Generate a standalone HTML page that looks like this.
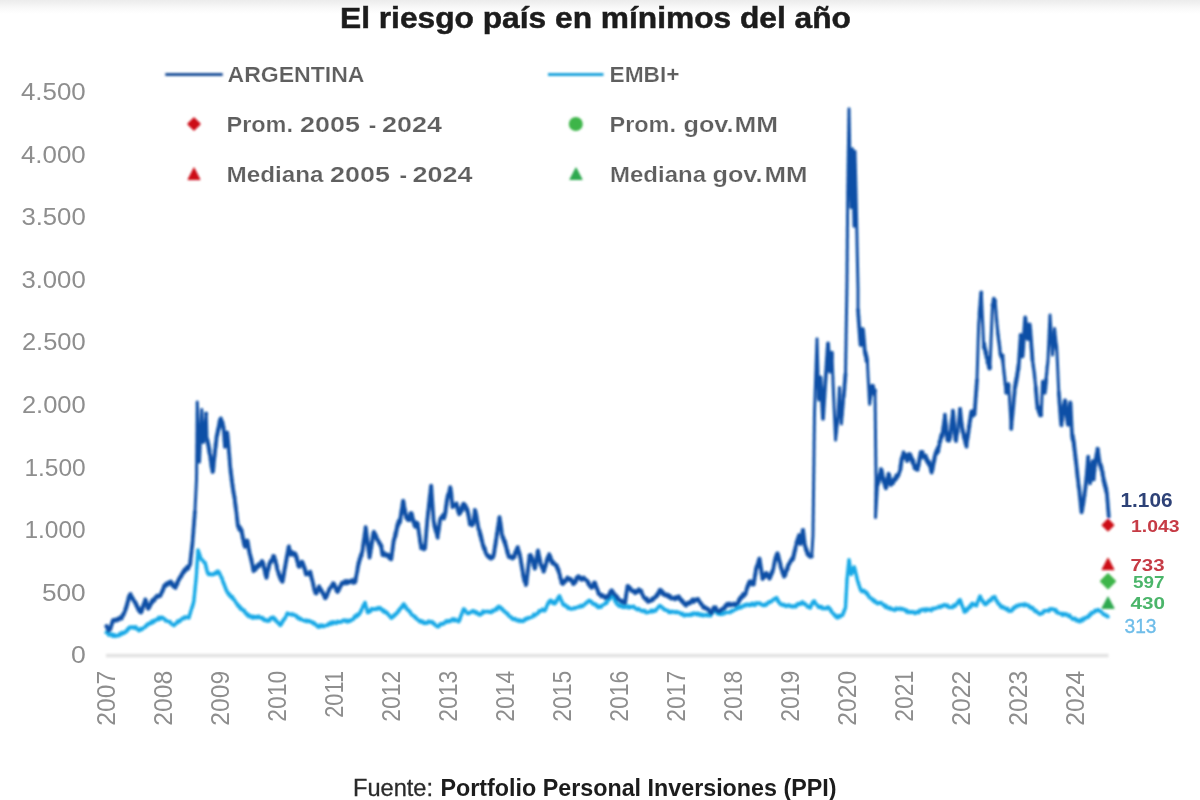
<!DOCTYPE html>
<html lang="es"><head><meta charset="utf-8"><title>El riesgo país en mínimos del año</title>
<style>
html,body{margin:0;padding:0;background:#fff;}
body{width:1200px;height:800px;overflow:hidden;font-family:"Liberation Sans",Arial,sans-serif;}
svg{display:block;}
</style></head><body>
<svg width="1200" height="800" viewBox="0 0 1200 800">
<defs><linearGradient id="tg" x1="0" y1="0" x2="0" y2="1"><stop offset="0" stop-color="#ececec"/><stop offset="0.28" stop-color="#f2f2f2"/><stop offset="0.57" stop-color="#f9f9f9"/><stop offset="0.85" stop-color="#fdfdfd"/><stop offset="1" stop-color="#ffffff"/></linearGradient><filter id="bl" x="-2%" y="-2%" width="104%" height="104%"><feGaussianBlur stdDeviation="0.8"/></filter><filter id="bt" x="-2%" y="-2%" width="104%" height="104%"><feGaussianBlur stdDeviation="0.65"/></filter></defs>
<rect x="0" y="0" width="1200" height="800" fill="#ffffff"/>
<rect x="0" y="0" width="1200" height="14" fill="url(#tg)"/>
<g filter="url(#bl)"><rect x="106" y="653.8" width="1002.5" height="3.6" fill="#e3e3e3"/>
<rect x="165.3" y="73" width="57.4" height="3" fill="#1f4f98"/>
<rect x="548" y="73" width="55.5" height="3" fill="#1fa2dc"/>
<path d="M194.0 118.4 L199.6 124.0 L194.0 129.6 L188.4 124.0 Z" fill="#cc0a14" stroke="#cc0a14" stroke-width="2.0" stroke-linejoin="round"/>
<path d="M194.0 167.8 L200.0 179.6 L188.0 179.6 Z" fill="#cc0a14" stroke="#cc0a14" stroke-width="1" stroke-linejoin="round"/>
<circle cx="575.8" cy="124" r="7" fill="#3db54a"/>
<path d="M576.0 167.8 L582.2 179.5 L569.8 179.5 Z" fill="#2fa950" stroke="#2fa950" stroke-width="1" stroke-linejoin="round"/>
<path d="M106.2 632.5 L107.5 632.9 L108.8 635.1 L110.0 634.6 L111.2 633.8 L112.5 636.3 L113.8 634.5 L115.0 636.5 L116.2 635.3 L117.5 635.9 L118.8 635.8 L120.0 633.3 L121.2 634.6 L122.5 632.3 L123.8 633.4 L125.0 632.6 L125.8 631.1 L126.7 631.4 L127.5 629.1 L128.3 629.7 L129.2 627.6 L130.0 626.9 L131.2 627.8 L132.5 626.7 L133.8 628.2 L135.0 627.0 L135.9 626.8 L136.9 629.2 L137.8 628.9 L138.8 630.7 L139.8 630.3 L140.8 628.5 L141.8 629.5 L142.8 628.5 L143.8 627.7 L144.8 627.5 L145.8 625.5 L146.8 626.0 L147.8 623.7 L148.8 623.8 L149.8 624.1 L150.8 622.0 L151.9 623.1 L152.9 620.8 L154.0 622.0 L155.0 620.4 L156.2 619.4 L157.5 620.0 L158.8 617.2 L160.0 619.2 L161.2 617.1 L162.5 617.4 L163.5 618.7 L164.5 618.7 L165.5 620.9 L166.5 620.4 L167.5 621.1 L168.8 621.9 L170.0 621.5 L171.2 624.0 L172.5 624.1 L173.8 625.5 L175.0 624.8 L175.9 623.1 L176.8 623.2 L177.7 621.0 L178.6 622.2 L179.5 620.4 L180.4 620.9 L181.2 619.4 L182.5 618.1 L183.8 618.8 L185.0 616.8 L186.2 617.7 L187.5 616.9 L188.8 618.0 L189.1 617.7 L189.5 615.1 L189.9 615.1 L190.3 612.2 L190.7 612.3 L191.1 610.0 L191.4 609.5 L191.8 607.5 L192.2 607.8 L192.6 605.1 L193.0 605.3 L193.4 602.2 L193.8 602.0 L193.9 601.7 L194.0 599.0 L194.1 598.8 L194.2 596.4 L194.4 596.6 L194.5 594.1 L194.6 594.0 L194.8 591.2 L194.9 591.5 L195.0 589.1 L195.1 589.1 L195.2 586.6 L195.4 586.1 L195.5 583.7 L195.6 584.1 L195.8 581.5 L195.9 581.7 L196.0 579.0 L196.1 578.9 L196.2 577.2 L196.3 576.2 L196.4 575.0 L196.5 573.7 L196.6 572.5 L196.6 571.2 L196.7 570.0 L196.8 568.7 L196.9 567.5 L197.0 566.2 L197.0 565.0 L197.1 563.7 L197.2 562.5 L197.3 561.2 L197.4 560.1 L197.4 558.7 L197.5 557.5 L197.6 556.3 L197.7 555.1 L197.8 553.8 L197.8 552.6 L197.9 551.2 L198.0 550.0 L198.4 552.0 L198.8 551.8 L199.2 554.8 L199.6 554.0 L200.0 556.8 L200.4 556.6 L200.8 558.9 L201.2 559.5 L202.5 559.8 L203.8 562.3 L205.0 562.4 L205.3 563.1 L205.6 565.7 L205.9 565.2 L206.2 568.6 L206.6 567.9 L206.9 571.0 L207.2 570.9 L207.5 572.9 L208.8 574.7 L210.0 573.5 L211.2 574.7 L212.5 574.8 L213.5 573.8 L214.6 574.2 L215.6 572.3 L216.7 573.4 L217.7 571.1 L218.8 571.8 L219.3 573.7 L219.8 573.3 L220.4 575.7 L220.9 575.8 L221.4 578.1 L222.0 578.0 L222.5 580.2 L223.0 582.4 L223.4 582.0 L223.9 584.7 L224.3 584.0 L224.8 587.0 L225.2 586.5 L225.7 589.4 L226.1 588.9 L226.6 591.4 L227.0 591.0 L227.5 592.6 L228.3 594.2 L229.2 593.5 L230.0 596.2 L230.8 595.5 L231.7 597.8 L232.5 596.7 L233.3 599.4 L234.2 599.4 L235.0 600.9 L235.8 602.9 L236.7 602.9 L237.5 605.4 L238.3 604.8 L239.2 607.5 L240.0 606.6 L240.8 609.2 L241.7 608.5 L242.5 609.8 L243.4 611.0 L244.4 610.2 L245.3 613.3 L246.2 612.9 L247.2 615.4 L248.1 614.2 L249.1 616.9 L250.0 616.8 L251.2 615.9 L252.5 618.1 L253.8 616.3 L255.0 617.9 L256.2 616.6 L257.5 617.9 L258.8 616.1 L260.0 617.3 L261.2 618.4 L262.5 617.5 L263.8 620.3 L265.0 619.2 L266.2 620.9 L267.5 621.2 L268.5 619.9 L269.5 620.9 L270.5 618.1 L271.5 618.5 L272.5 617.1 L273.4 617.2 L274.4 619.8 L275.3 618.9 L276.2 621.5 L277.2 621.3 L278.1 623.2 L279.1 623.3 L280.0 625.2 L280.7 625.3 L281.4 622.9 L282.0 623.3 L282.7 620.6 L283.4 620.8 L284.1 618.8 L284.8 619.0 L285.5 617.0 L286.1 616.3 L286.8 613.9 L287.5 613.0 L288.8 614.2 L290.0 614.0 L291.2 614.9 L292.5 613.9 L293.8 615.3 L295.0 615.0 L296.1 615.4 L297.1 617.8 L298.2 617.1 L299.3 619.1 L300.4 618.2 L301.4 619.7 L302.5 620.1 L303.8 620.2 L305.0 621.2 L306.2 620.1 L307.5 621.7 L308.8 620.4 L310.0 621.2 L311.1 622.3 L312.1 621.8 L313.2 623.6 L314.3 622.9 L315.4 624.8 L316.4 624.7 L317.5 626.7 L318.8 627.3 L320.0 625.0 L321.2 626.7 L322.5 625.1 L323.8 626.7 L325.0 625.9 L326.2 625.2 L327.5 625.5 L328.8 623.4 L330.0 624.4 L331.2 622.1 L332.5 623.9 L333.8 621.8 L335.0 622.7 L336.2 623.4 L337.5 621.4 L338.8 622.5 L340.0 621.6 L341.2 622.2 L342.5 620.7 L343.8 619.9 L345.0 621.3 L346.2 620.1 L347.5 622.0 L348.8 620.2 L350.0 621.3 L351.2 619.7 L352.5 619.8 L353.4 619.1 L354.4 616.4 L355.3 617.4 L356.2 614.9 L357.2 616.4 L358.1 614.0 L359.1 614.7 L360.0 613.2 L360.6 610.9 L361.1 611.6 L361.7 609.0 L362.2 609.0 L362.8 606.2 L363.3 606.7 L363.9 604.3 L364.4 604.3 L365.0 602.4 L365.3 603.2 L365.6 605.6 L365.9 605.4 L366.2 607.9 L366.6 607.7 L366.9 610.9 L367.2 610.9 L367.5 612.6 L368.5 612.6 L369.5 610.6 L370.5 611.4 L371.5 608.6 L372.5 608.7 L373.8 609.5 L375.0 608.8 L376.2 609.5 L377.5 607.7 L378.8 608.9 L380.0 607.5 L381.2 608.9 L382.2 610.6 L383.2 609.9 L384.2 612.3 L385.1 611.1 L386.1 612.8 L387.1 612.4 L388.1 615.0 L389.0 614.8 L390.0 616.7 L391.2 618.2 L392.3 617.7 L393.3 615.5 L394.4 616.0 L395.4 613.8 L396.5 614.1 L397.5 612.5 L398.3 610.5 L399.1 611.0 L399.8 608.8 L400.6 608.7 L401.4 606.7 L402.2 607.6 L403.0 604.4 L403.8 603.9 L404.4 605.4 L405.0 605.2 L405.6 607.6 L406.2 607.1 L406.9 609.6 L407.5 609.8 L408.5 609.7 L409.5 612.2 L410.5 612.0 L411.5 615.0 L412.5 615.1 L413.5 615.4 L414.6 617.6 L415.6 616.8 L416.7 619.2 L417.7 619.2 L418.8 620.7 L419.8 621.8 L420.8 620.5 L421.9 622.4 L422.9 621.2 L424.0 623.4 L425.0 623.5 L426.2 622.3 L427.5 623.2 L428.8 621.0 L430.0 621.9 L431.1 622.6 L432.1 621.6 L433.2 623.8 L434.3 623.3 L435.4 625.6 L436.4 625.7 L437.5 626.8 L438.8 626.5 L440.0 623.9 L441.2 624.7 L442.5 623.2 L443.8 624.0 L445.0 622.3 L446.2 620.8 L447.5 622.1 L448.8 620.5 L450.0 621.6 L451.2 620.3 L452.5 618.7 L453.8 620.8 L455.0 619.0 L456.2 620.9 L457.5 620.5 L458.8 621.7 L459.2 621.0 L459.7 618.5 L460.1 619.2 L460.6 616.1 L461.0 616.1 L461.5 613.9 L461.9 614.3 L462.4 611.6 L462.8 611.7 L463.3 609.2 L463.8 608.7 L464.5 610.2 L465.2 609.9 L466.0 612.1 L466.8 612.3 L467.5 613.6 L468.8 613.6 L470.0 612.1 L471.2 612.5 L472.5 610.8 L473.8 611.0 L474.8 612.7 L475.8 611.6 L476.9 613.6 L477.9 612.9 L479.0 614.8 L480.0 615.0 L481.0 613.5 L482.0 613.9 L483.0 611.0 L484.0 612.5 L485.0 611.8 L486.2 611.3 L487.5 612.0 L488.8 611.3 L490.0 612.4 L491.2 612.6 L492.5 610.3 L493.8 611.2 L495.0 609.7 L495.9 608.6 L496.9 609.7 L497.8 607.0 L498.8 606.3 L499.8 607.8 L500.8 607.3 L501.8 609.7 L502.8 609.2 L503.8 611.0 L504.8 612.1 L505.8 611.9 L506.9 614.1 L507.9 613.7 L509.0 616.2 L510.0 616.9 L511.0 616.8 L512.1 619.1 L513.1 618.4 L514.2 619.7 L515.2 618.5 L516.2 619.9 L517.5 621.0 L518.8 619.9 L520.0 621.4 L521.2 620.3 L522.5 621.5 L523.8 621.1 L525.0 618.8 L526.2 619.6 L527.5 617.7 L528.8 618.4 L530.0 617.4 L531.2 617.3 L532.5 616.9 L533.8 614.2 L535.0 615.6 L536.2 614.4 L537.2 613.2 L538.1 613.5 L539.1 610.8 L540.0 610.7 L541.2 611.1 L542.5 609.1 L543.8 610.7 L545.0 610.7 L545.6 608.6 L546.1 608.6 L546.7 606.0 L547.2 605.7 L547.8 603.3 L548.3 603.8 L548.9 601.7 L549.4 601.9 L550.0 600.4 L551.0 600.3 L552.0 602.9 L553.0 601.6 L554.0 603.7 L555.0 603.7 L555.6 601.6 L556.3 602.2 L556.9 599.6 L557.6 600.0 L558.2 597.1 L558.9 597.5 L559.5 595.8 L560.0 596.7 L560.5 598.8 L561.0 599.2 L561.5 601.4 L562.0 601.3 L562.5 603.7 L563.6 605.2 L564.6 604.3 L565.7 606.3 L566.8 606.0 L567.9 608.4 L568.9 607.2 L570.0 608.6 L571.2 609.3 L572.5 608.2 L573.8 608.8 L575.0 607.4 L576.2 608.0 L577.5 607.3 L578.8 606.3 L580.0 607.2 L581.2 605.4 L582.5 606.4 L583.8 605.2 L584.8 603.7 L585.8 603.9 L586.8 601.9 L587.8 602.0 L588.8 600.5 L589.8 600.4 L590.8 602.1 L591.8 601.8 L592.8 604.2 L593.8 604.0 L594.8 603.7 L595.8 605.7 L596.8 604.8 L597.8 607.5 L598.8 607.5 L600.0 606.1 L601.2 607.2 L602.5 605.0 L603.8 604.6 L604.8 604.3 L605.8 602.3 L606.8 603.1 L607.8 600.4 L608.8 600.0 L609.7 599.3 L610.6 597.4 L611.6 597.4 L612.5 595.9 L613.1 596.4 L613.8 598.2 L614.4 598.3 L615.0 601.4 L615.6 601.0 L616.2 603.0 L617.2 604.6 L618.1 604.3 L619.1 606.3 L620.0 606.2 L621.2 605.1 L622.5 607.3 L623.8 606.3 L625.0 607.5 L626.2 607.1 L627.5 605.9 L628.8 607.9 L630.0 606.4 L631.2 607.5 L632.5 606.4 L633.8 606.2 L635.0 608.5 L636.2 608.2 L637.5 609.9 L638.8 608.6 L640.0 609.9 L641.2 611.1 L642.5 610.2 L643.8 611.8 L645.0 610.6 L646.2 612.8 L647.5 612.6 L648.8 611.9 L650.0 612.1 L651.2 610.2 L652.5 611.9 L653.8 610.2 L655.0 611.2 L656.0 610.5 L657.0 608.4 L658.0 608.0 L659.0 606.0 L660.0 605.6 L661.0 606.9 L662.1 607.0 L663.1 609.1 L664.2 608.8 L665.2 610.4 L666.2 610.3 L667.5 610.3 L668.8 612.5 L670.0 611.3 L671.2 612.5 L672.5 611.2 L673.8 611.9 L675.0 612.7 L676.2 611.6 L677.5 612.8 L678.8 612.1 L680.0 612.9 L681.2 614.5 L682.5 613.2 L683.8 615.7 L685.0 615.7 L686.2 614.4 L687.5 615.4 L688.8 614.5 L690.0 615.5 L691.2 613.7 L692.5 614.9 L693.8 613.0 L695.0 613.3 L696.2 614.6 L697.5 613.1 L698.8 615.0 L700.0 613.8 L701.2 615.6 L702.5 614.2 L703.8 615.9 L705.0 615.0 L706.2 614.4 L707.5 615.7 L708.8 615.0 L710.0 615.8 L710.8 615.8 L711.5 612.8 L712.2 613.2 L713.0 611.1 L713.8 610.6 L715.0 611.6 L716.2 611.7 L717.5 613.8 L718.8 613.3 L720.0 614.4 L721.2 614.5 L722.5 612.8 L723.8 613.9 L725.0 612.4 L726.2 612.8 L727.5 612.4 L728.8 612.2 L730.0 612.7 L731.2 610.8 L732.5 611.4 L733.8 609.9 L735.0 609.9 L736.2 609.5 L737.5 607.2 L738.8 608.3 L740.0 606.3 L741.2 607.8 L742.5 606.4 L743.8 605.0 L745.0 606.1 L746.2 604.1 L747.5 604.2 L748.8 605.5 L750.0 604.0 L751.2 605.3 L752.5 603.3 L753.8 605.0 L755.0 605.3 L756.2 602.7 L757.5 603.8 L758.8 602.9 L759.8 603.0 L760.8 604.6 L761.8 604.3 L762.8 605.5 L763.8 605.5 L764.8 604.4 L765.8 605.3 L766.9 603.3 L767.9 603.8 L769.0 601.7 L770.0 601.9 L771.0 602.0 L772.1 600.3 L773.1 600.3 L774.2 598.6 L775.2 598.8 L776.2 597.7 L776.9 597.8 L777.5 600.9 L778.1 600.1 L778.8 602.5 L779.4 602.3 L780.0 604.0 L781.2 604.9 L782.5 604.1 L783.8 605.7 L785.0 604.8 L786.2 606.4 L787.5 605.8 L788.8 604.9 L790.0 606.5 L791.2 605.7 L792.5 607.0 L793.8 605.8 L795.0 606.9 L796.0 606.9 L797.1 603.9 L798.1 604.6 L799.2 603.3 L800.2 604.4 L801.2 602.9 L802.5 601.9 L803.8 604.2 L805.0 603.5 L806.2 605.1 L807.5 606.9 L808.8 606.4 L810.0 608.1 L810.6 607.7 L811.2 604.6 L811.9 605.0 L812.5 602.2 L813.1 602.4 L813.8 601.0 L814.7 601.2 L815.6 604.1 L816.6 604.3 L817.5 605.6 L818.5 607.3 L819.6 606.2 L820.6 607.7 L821.7 606.6 L822.7 608.8 L823.8 608.5 L825.0 608.0 L826.2 608.9 L827.5 607.0 L828.8 607.1 L829.4 608.7 L830.0 608.6 L830.6 610.9 L831.2 610.3 L831.9 612.6 L832.5 613.0 L833.4 613.4 L834.4 615.6 L835.3 615.1 L836.2 617.3 L837.5 617.9 L838.8 615.5 L840.0 616.9 L841.2 615.2 L842.5 615.4 L843.0 614.5 L843.5 611.8 L844.0 612.2 L844.5 609.7 L845.0 609.2 L845.5 607.3 L845.6 606.2 L845.6 605.0 L845.7 603.8 L845.8 602.5 L845.8 601.2 L845.9 600.0 L846.0 598.8 L846.0 597.5 L846.1 596.2 L846.2 595.0 L846.2 593.8 L846.3 592.5 L846.4 591.2 L846.5 590.0 L846.5 588.8 L846.6 587.5 L846.7 586.2 L846.7 585.0 L846.8 583.8 L846.9 582.5 L846.9 581.2 L847.0 580.0 L847.1 578.1 L847.2 578.0 L847.4 575.1 L847.5 575.2 L847.6 572.7 L847.8 572.8 L847.9 570.3 L848.0 570.6 L848.1 567.9 L848.2 568.1 L848.4 565.5 L848.5 565.1 L848.6 563.0 L848.8 563.0 L848.9 560.7 L849.0 559.8 L849.2 561.7 L849.4 561.7 L849.6 563.8 L849.8 564.2 L849.9 566.6 L850.1 566.5 L850.3 569.3 L850.5 569.0 L850.7 572.0 L850.9 571.1 L851.1 574.4 L851.2 574.6 L851.8 572.4 L852.2 572.8 L852.8 570.0 L853.2 570.4 L853.8 567.6 L854.2 566.9 L854.6 569.0 L854.9 568.6 L855.2 571.4 L855.5 571.4 L855.9 573.8 L856.2 574.4 L856.5 576.8 L856.9 576.9 L857.2 580.0 L857.5 580.5 L857.9 581.1 L858.3 583.8 L858.7 583.3 L859.1 586.1 L859.5 585.9 L859.9 588.4 L860.3 588.3 L860.8 590.5 L862.2 591.8 L863.6 590.2 L865.0 591.5 L865.8 593.3 L866.7 592.2 L867.5 595.1 L868.3 594.6 L869.2 597.6 L870.0 597.8 L871.0 598.0 L872.1 600.0 L873.1 599.3 L874.2 601.8 L875.2 600.9 L876.2 602.6 L877.5 603.7 L878.8 602.5 L880.0 603.3 L881.2 602.5 L882.5 604.0 L883.5 605.5 L884.5 604.9 L885.5 607.4 L886.5 606.0 L887.5 607.6 L888.8 608.7 L890.0 607.5 L891.2 609.4 L892.5 608.9 L893.8 610.0 L895.0 610.3 L896.2 608.1 L897.5 609.4 L898.8 609.0 L900.0 608.1 L901.2 609.6 L902.5 608.6 L903.8 609.2 L904.8 610.5 L905.8 609.9 L906.9 612.2 L907.9 610.9 L909.0 612.6 L910.0 612.5 L911.2 611.6 L912.5 612.5 L913.8 611.7 L915.0 613.4 L916.2 612.9 L917.5 611.5 L918.8 612.7 L920.0 610.0 L921.2 610.7 L922.5 609.3 L923.8 609.3 L925.0 611.0 L926.2 608.9 L927.5 610.3 L928.8 609.0 L930.0 609.8 L931.2 610.7 L932.5 608.3 L933.8 609.1 L935.0 607.9 L936.2 608.4 L937.5 607.6 L938.8 606.4 L940.0 607.5 L941.2 605.8 L942.5 606.5 L943.8 604.7 L945.0 604.7 L946.2 606.1 L947.5 605.0 L948.8 607.5 L950.0 607.5 L951.2 606.9 L952.5 607.6 L953.8 605.0 L955.0 606.2 L956.2 604.6 L957.0 602.9 L957.8 603.5 L958.5 600.8 L959.2 601.7 L960.0 599.7 L960.4 600.3 L960.8 602.9 L961.2 602.2 L961.6 605.0 L962.0 604.9 L962.5 606.9 L962.9 607.1 L963.3 609.0 L963.7 609.2 L964.1 611.7 L964.5 612.1 L965.4 610.9 L966.2 611.4 L967.0 608.6 L967.9 609.6 L968.8 607.8 L969.7 606.1 L970.6 607.3 L971.6 603.8 L972.5 603.3 L973.8 605.1 L975.0 604.2 L976.2 605.8 L976.7 605.6 L977.2 602.8 L977.7 602.4 L978.1 600.4 L978.6 600.1 L979.1 597.8 L979.5 597.9 L980.0 596.1 L980.6 596.6 L981.2 599.6 L981.9 599.6 L982.5 601.6 L983.1 601.0 L983.8 603.2 L984.4 603.0 L985.0 604.6 L986.0 604.6 L987.0 602.4 L988.0 602.8 L989.0 600.2 L990.0 600.2 L991.1 600.6 L992.2 597.4 L993.4 597.7 L994.5 596.6 L995.1 597.0 L995.7 600.0 L996.3 599.7 L996.9 601.7 L997.5 601.5 L998.1 603.9 L998.8 604.3 L999.8 604.3 L1000.8 607.1 L1001.9 606.2 L1002.9 608.0 L1004.0 607.1 L1005.0 608.2 L1006.2 609.5 L1007.5 608.2 L1008.8 611.2 L1010.0 610.8 L1011.2 611.2 L1012.1 610.4 L1013.0 607.9 L1013.9 608.6 L1014.8 606.8 L1015.7 607.3 L1016.6 605.6 L1017.5 605.2 L1018.8 606.0 L1020.0 604.4 L1021.2 605.0 L1022.5 604.3 L1023.8 605.6 L1025.0 603.8 L1026.2 605.6 L1027.5 604.9 L1028.5 605.1 L1029.6 607.5 L1030.6 606.8 L1031.7 608.5 L1032.7 607.6 L1033.8 609.8 L1034.8 611.1 L1035.8 610.4 L1036.9 612.3 L1037.9 612.1 L1039.0 614.0 L1040.0 614.4 L1041.2 613.2 L1042.5 613.5 L1043.8 610.7 L1045.0 611.3 L1046.2 610.4 L1047.5 610.4 L1048.8 611.2 L1050.0 608.7 L1051.2 609.5 L1052.5 608.7 L1053.6 609.2 L1054.6 610.6 L1055.7 609.5 L1056.8 612.6 L1057.9 612.1 L1058.9 613.6 L1060.0 613.6 L1061.2 613.3 L1062.5 615.3 L1063.8 613.6 L1065.0 615.0 L1066.2 613.9 L1067.5 615.4 L1068.5 616.4 L1069.6 615.0 L1070.6 617.4 L1071.7 617.8 L1072.7 619.3 L1073.8 618.4 L1075.0 618.3 L1076.2 620.8 L1077.5 619.7 L1078.8 621.6 L1080.0 621.7 L1081.2 619.3 L1082.5 620.7 L1083.8 618.1 L1085.0 618.9 L1086.2 617.3 L1087.3 616.7 L1088.3 617.4 L1089.4 614.6 L1090.4 615.3 L1091.5 612.6 L1092.5 613.1 L1093.8 612.5 L1095.0 610.4 L1096.2 611.3 L1097.5 609.7 L1098.8 610.0 L1100.0 611.6 L1101.2 611.4 L1102.5 613.2 L1103.6 614.6 L1104.7 614.3 L1105.8 615.9 L1106.9 615.5 L1108.0 616.8" fill="none" stroke="#12a8e6" stroke-width="3.4" stroke-linejoin="round" stroke-linecap="round"/>
<path d="M194.9 512.2 L195.0 510.6 L195.1 508.9 L195.1 507.8 L195.2 506.7 L195.2 505.6 L195.3 504.4 L195.3 503.3 L195.4 502.2 L195.4 501.1 L195.5 500.0 L195.6 498.9 L195.6 497.8 L195.7 496.7 L195.7 495.6 L195.8 494.4 L195.8 493.3 L195.9 492.2 L195.9 491.1 L196.0 490.0 L196.1 488.9 L196.1 487.8 L196.2 486.7 L196.2 485.6 L196.3 484.4 L196.3 483.3 L196.4 482.2 L196.4 481.1 L196.5 480.0 L196.5 478.9 L196.5 477.8 L196.5 476.7 L196.5 475.5 L196.6 474.4 L196.6 473.3 L196.6 472.2 L196.6 471.1 L196.6 470.0 L196.6 468.9 L196.6 467.7 L196.6 466.6 L196.6 465.5 L196.7 464.4 L196.7 463.3 L196.7 462.2 L196.7 461.1 L196.7 459.9 L196.7 458.8 L196.7 457.7 L196.7 456.6 L196.7 455.5 L196.7 454.4 L196.8 453.3 L196.8 452.1 L196.8 451.0 L196.8 449.9 L196.8 448.8 L196.8 447.7 L196.8 446.6 L196.8 445.5 L196.8 444.3 L196.9 443.2 L196.9 442.1 L196.9 441.0 L196.9 439.9 L196.9 438.8 L196.9 437.7 L196.9 436.5 L196.9 435.4 L196.9 434.3 L196.9 433.2 L197.0 432.1 L197.0 431.0 L197.0 429.9 L197.0 428.7 L197.0 427.6 L197.0 426.5 L197.0 425.4 L197.0 424.3 L197.0 423.2 L197.1 422.1 L197.1 420.9 L197.1 419.8 L197.1 418.7 L197.1 417.6 L197.1 416.5 L197.1 415.4 L197.1 414.3 L197.1 413.1 L197.2 412.0 L197.2 410.9 L197.2 409.8 L197.2 408.7 L197.2 407.6 L197.2 406.5 L197.2 405.3 L197.2 404.2 L197.2 403.1 L197.2 402.0 L197.3 403.1 L197.3 404.2 L197.4 405.3 L197.4 406.4 L197.5 407.6 L197.5 408.7 L197.5 409.8 L197.6 410.9 L197.6 412.0 L197.7 413.1 L197.7 414.2 L197.8 415.3 L197.8 416.4 L197.8 417.6 L197.9 418.7 L197.9 419.8 L198.0 420.9 L198.0 422.0 L198.0 423.1 L198.1 424.2 L198.1 425.3 L198.2 426.4 L198.2 427.6 L198.2 428.7 L198.3 429.8 L198.3 430.9 L198.4 432.0 L198.4 433.1 L198.5 434.2 L198.5 435.3 L198.5 436.4 L198.6 437.6 L198.6 438.7 L198.7 439.8 L198.7 440.9 L198.8 442.0 L198.8 443.1 L198.8 444.2 L198.9 445.3 L198.9 446.4 L199.0 447.6 L199.0 448.7 L199.0 449.8 L199.1 450.9 L199.1 452.0 L199.2 453.1 L199.2 454.2 L199.2 455.3 L199.3 456.4 L199.3 457.6 L199.4 458.7 L199.4 459.8 L199.5 460.9 L199.5 462.0 L199.5 460.9 L199.6 459.8 L199.6 458.6 L199.7 457.5 L199.7 456.4 L199.8 455.3 L199.8 454.2 L199.9 453.1 L199.9 451.9 L200.0 450.8 L200.0 449.7 L200.1 448.6 L200.1 447.5 L200.2 446.4 L200.2 445.2 L200.3 444.1 L200.3 443.0 L200.4 441.9 L200.4 440.8 L200.5 439.7 L200.5 438.5 L200.6 437.4 L200.6 436.3 L200.6 435.2 L200.7 434.1 L200.7 433.0 L200.8 431.8 L200.8 430.7 L200.9 429.6 L200.9 428.5 L201.0 427.4 L201.0 426.3 L201.1 425.1 L201.1 424.0 L201.2 422.9 L201.2 421.8 L201.3 420.7 L201.3 419.6 L201.4 418.4 L201.4 417.3 L201.5 416.2 L201.5 415.1 L201.6 414.0 L201.6 412.9 L201.7 411.7 L201.7 410.6 L201.8 409.5 L201.8 410.6 L201.8 411.7 L201.9 412.8 L201.9 413.9 L202.0 415.0 L202.1 416.1 L202.1 417.2 L202.2 418.3 L202.2 419.4 L202.2 420.5 L202.3 421.6 L202.3 422.7 L202.4 423.8 L202.4 424.9 L202.5 426.0 L202.6 427.1 L202.6 428.2 L202.7 429.3 L202.7 430.4 L202.8 431.5 L202.8 432.6 L202.8 433.7 L202.9 434.8 L202.9 435.9 L203.0 437.0 L203.1 438.1 L203.1 439.2 L203.2 440.3 L203.2 441.4 L203.2 442.5 L203.4 440.8 L203.5 442.1 L203.6 437.7 L203.7 440.2 L203.8 436.7 L203.9 438.6 L204.1 434.7 L204.2 436.8 L204.3 432.0 L204.4 434.5 L204.5 431.8 L204.6 434.1 L204.8 428.2 L204.9 431.8 L205.0 426.4 L205.1 429.2 L205.2 422.8 L205.3 425.2 L205.4 420.5 L205.6 423.8 L205.7 418.1 L205.8 420.6 L205.9 416.1 L206.0 417.6 L206.1 413.6 M206.2 413.5 L206.3 415.1 L206.3 416.2 L206.3 417.4 L206.4 418.5 L206.4 419.6 L206.4 420.8 L206.5 421.9 L206.5 423.0 L206.5 424.1 L206.6 425.2 L206.6 426.4 L206.6 427.5 L206.7 428.6 L206.7 429.8 L206.7 430.9 L206.8 432.0 L206.8 433.1 L206.8 434.2 L206.8 435.4 L206.9 436.5 L206.9 437.6 L206.9 438.8 L207.0 439.9 L207.0 441.0 M811.8 556.5 L811.8 555.1 L811.9 554.0 L811.9 552.9 L812.0 551.8 L812.1 550.7 L812.1 549.5 L812.2 548.4 L812.3 547.3 L812.3 546.2 L812.4 545.1 L812.5 543.9 L812.5 542.8 L812.6 541.7 L812.7 540.6 L812.7 539.5 L812.8 538.4 L812.9 537.2 L812.9 536.1 L813.0 535.0 L813.0 533.9 L813.0 532.8 L813.0 531.7 L813.1 530.6 L813.1 529.5 L813.1 528.4 L813.1 527.3 L813.1 526.2 L813.1 525.1 L813.1 524.0 L813.1 522.9 L813.2 521.8 L813.2 520.7 L813.2 519.5 L813.2 518.4 L813.2 517.3 L813.2 516.2 L813.2 515.1 L813.3 514.0 L813.3 512.9 L813.3 511.8 L813.3 510.7 L813.3 509.6 L813.3 508.5 L813.3 507.4 L813.4 506.3 L813.4 505.2 L813.4 504.1 L813.4 503.0 L813.4 501.9 L813.4 500.8 L813.4 499.7 L813.4 498.6 L813.5 497.5 L813.5 496.4 L813.5 495.3 L813.5 494.2 L813.5 493.1 L813.5 492.0 L813.5 490.9 L813.6 489.8 L813.6 488.6 L813.6 487.5 L813.6 486.4 L813.6 485.3 L813.6 484.2 L813.6 483.1 L813.6 482.0 L813.7 480.9 L813.7 479.8 L813.7 478.7 L813.7 477.6 L813.7 476.5 L813.7 475.4 L813.7 474.3 L813.8 473.2 L813.8 472.1 L813.8 471.0 L813.8 469.9 L813.8 468.8 L813.8 467.7 L813.8 466.6 L813.9 465.5 L813.9 464.4 L813.9 463.3 L813.9 462.2 L813.9 461.1 L813.9 460.0 L813.9 458.9 L813.9 457.7 L814.0 456.6 L814.0 455.5 L814.0 454.4 L814.0 453.3 L814.0 452.2 L814.0 451.1 L814.0 450.0 L814.1 448.9 L814.1 447.8 L814.1 446.7 L814.1 445.6 L814.1 444.5 L814.1 443.4 L814.1 442.3 L814.1 441.2 L814.2 440.1 L814.2 439.0 L814.2 437.9 L814.2 436.8 L814.2 435.7 L814.2 434.6 L814.2 433.5 L814.3 432.4 L814.3 431.3 L814.3 430.2 L814.3 429.1 L814.3 428.0 L814.3 426.8 L814.3 425.7 L814.4 424.6 L814.4 423.5 L814.4 422.4 L814.4 421.3 L814.4 420.2 L814.4 419.1 L814.4 418.0 L814.4 416.9 L814.5 415.8 L814.5 414.7 L814.5 413.6 L814.5 412.5 L814.5 411.4 L814.6 410.3 L814.6 409.2 L814.6 408.1 L814.7 407.0 L814.7 405.9 L814.8 404.8 L814.8 403.7 L814.8 402.6 L814.9 401.5 L814.9 400.4 L814.9 399.3 L815.0 398.2 L815.0 397.1 L815.1 396.0 L815.1 394.9 L815.1 393.8 L815.2 392.7 L815.2 391.6 L815.2 390.5 L815.3 389.4 L815.3 388.3 L815.4 387.2 L815.4 386.1 L815.4 385.0 L815.5 383.9 L815.5 382.8 L815.5 381.7 L815.6 380.6 L815.6 379.5 L815.7 378.4 L815.7 377.3 L815.7 376.2 L815.8 375.1 L815.8 374.0 L815.8 372.9 L815.9 371.8 L815.9 370.7 L816.0 369.6 L816.0 368.5 L816.0 367.4 L816.1 366.3 L816.1 365.2 L816.1 364.1 L816.2 363.0 L816.2 361.9 L816.3 360.8 L816.3 359.7 L816.3 358.6 L816.4 357.5 L816.4 356.4 L816.4 355.3 L816.5 354.2 L816.5 353.1 L816.6 352.0 L816.6 350.9 L816.6 349.8 L816.7 348.7 L816.7 347.6 L816.7 346.5 L816.8 345.4 L816.8 344.3 L816.9 343.2 L816.9 342.1 L816.9 341.0 L817.0 339.9 L817.0 338.8 L817.0 339.9 L817.1 341.0 L817.1 342.1 L817.1 343.2 L817.2 344.3 L817.2 345.4 L817.2 346.5 L817.3 347.7 L817.3 348.8 L817.3 349.9 L817.4 351.0 L817.4 352.1 L817.4 353.2 L817.4 354.3 L817.5 355.5 L817.5 356.6 L817.5 357.7 L817.6 358.8 L817.6 359.9 L817.6 361.0 L817.7 362.1 L817.7 363.2 L817.7 364.4 L817.8 365.5 L817.8 366.6 L817.8 367.7 L817.9 368.8 L817.9 369.9 L817.9 371.0 L818.0 372.2 L818.0 373.3 L818.0 374.4 L818.0 375.5 L818.1 376.6 L818.1 377.7 L818.1 378.8 L818.2 380.0 L818.2 381.1 L818.2 382.2 L818.3 383.3 L818.3 384.4 L818.3 385.5 L818.4 386.6 L818.4 387.8 L818.4 388.9 L818.5 390.0 L818.5 391.1 L818.5 392.2 L818.6 393.3 L818.6 394.4 L818.6 395.5 L818.7 396.7 L818.7 397.8 L818.7 398.9 L818.8 400.0 L818.8 396.5 M832.0 353.9 L832.0 356.1 L832.1 357.2 L832.1 358.4 L832.2 359.5 L832.2 360.6 L832.3 361.8 L832.3 362.9 L832.4 364.0 L832.4 365.1 L832.4 366.2 L832.5 367.4 L832.5 368.5 L832.6 369.6 L832.6 370.8 L832.7 371.9 L832.7 373.0 L832.7 374.1 L832.8 375.2 L832.8 376.4 L832.9 377.5 L832.9 378.6 L833.0 379.8 L833.0 380.9 L833.0 382.0 L833.1 383.1 L833.1 384.2 L833.2 385.4 L833.2 386.5 L833.3 387.6 L833.3 388.8 L833.4 389.9 L833.4 391.0 L833.4 392.1 L833.5 393.2 L833.5 394.4 L833.6 395.5 L833.6 396.6 L833.7 397.8 L833.7 398.9 L833.8 400.0 L833.8 401.1 L833.9 402.2 L833.9 403.3 L834.0 404.4 L834.0 405.5 L834.1 406.6 L834.1 407.7 L834.2 408.8 L834.2 409.9 L834.3 411.0 L834.3 412.1 L834.4 413.2 L834.4 414.3 L834.5 415.4 L834.5 416.5 L834.6 417.6 L834.6 418.8 L834.7 419.9 L834.7 421.0 L834.8 422.1 L834.8 423.2 L834.9 424.3 L834.9 425.4 L835.0 426.5 L835.0 427.6 L835.1 428.7 L835.1 429.8 L835.2 430.9 L835.2 432.0 L835.3 433.1 L835.3 434.2 L835.4 435.3 L835.4 436.4 L835.5 437.5 L835.6 440.1 L835.8 433.9 L835.9 437.3 L836.0 431.7 L836.1 435.7 L836.2 430.9 L836.4 433.5 L836.5 427.5 L836.6 431.7 L836.8 425.5 L836.9 428.4 L837.0 424.4 L837.1 426.7 L837.2 422.2 L837.4 424.6 L837.5 419.0 L837.6 422.4 L837.8 417.1 L837.9 418.9 L838.0 416.3 L838.1 413.9 L838.1 412.8 L838.2 411.7 L838.2 410.6 L838.3 409.5 L838.4 408.4 L838.4 407.3 L838.5 406.2 L838.5 405.1 L838.6 404.0 L838.7 402.9 L838.7 401.8 L838.8 400.7 L838.8 399.6 L838.9 398.5 L839.0 397.4 L839.0 396.3 L839.1 395.2 L839.1 394.1 L839.2 393.0 L839.3 391.9 L839.3 390.8 L839.4 389.7 L839.4 388.6 L839.5 387.5 L839.6 388.6 L839.6 389.8 L839.7 390.9 L839.7 392.0 L839.8 393.1 L839.8 394.3 L839.9 395.4 L840.0 396.5 L840.0 397.7 L840.1 398.8 L840.1 399.9 L840.2 401.0 L840.2 402.2 L840.3 403.3 L840.3 404.4 L840.4 405.6 L840.5 406.7 L840.5 407.8 L840.6 409.0 L840.6 410.1 L840.7 411.2 L840.7 412.3 L840.8 413.5 L840.9 414.6 L840.9 415.7 L841.0 416.9 L841.0 418.0 L841.1 419.1 L841.1 420.2 L841.2 421.4 L841.2 422.5 L841.4 420.8 L841.5 423.9 L841.6 419.6 L841.7 421.7 L841.8 417.4 L841.9 419.4 L842.0 414.6 L842.2 416.1 L842.3 411.1 L842.4 414.6 L842.5 408.8 L842.6 410.8 L842.7 407.1 L842.8 409.0 L843.0 403.3 L843.1 406.2 L843.2 401.7 L843.3 403.6 L843.4 398.5 L843.5 400.3 L843.6 395.7 M845.5 373.9 L845.5 372.8 L845.6 371.7 L845.6 370.6 L845.6 369.5 L845.6 368.4 L845.6 367.3 L845.6 366.2 L845.7 365.1 L845.7 364.0 L845.7 362.8 L845.7 361.7 L845.7 360.6 L845.7 359.5 L845.8 358.4 L845.8 357.3 L845.8 356.2 L845.8 355.1 L845.8 354.0 L845.8 352.9 L845.9 351.8 L845.9 350.7 L845.9 349.6 L845.9 348.5 L845.9 347.4 L846.0 346.3 L846.0 345.2 L846.0 344.1 L846.0 343.0 L846.0 341.9 L846.0 340.8 L846.1 339.7 L846.1 338.5 L846.1 337.4 L846.1 336.3 L846.1 335.2 L846.1 334.1 L846.2 333.0 L846.2 331.9 L846.2 330.8 L846.2 329.7 L846.2 328.6 L846.2 327.5 L846.3 326.4 L846.3 325.3 L846.3 324.2 L846.3 323.1 L846.3 322.0 L846.4 320.9 L846.4 319.8 L846.4 318.7 L846.4 317.6 L846.4 316.5 L846.4 315.3 L846.5 314.2 L846.5 313.1 L846.5 312.0 L846.5 310.9 L846.5 309.8 L846.5 308.7 L846.6 307.6 L846.6 306.5 L846.6 305.4 L846.6 304.3 L846.6 303.2 L846.7 302.1 L846.7 301.0 L846.7 299.9 L846.7 298.8 L846.7 297.7 L846.7 296.6 L846.8 295.5 L846.8 294.4 L846.8 293.3 L846.8 292.2 L846.8 291.0 L846.8 289.9 L846.9 288.8 L846.9 287.7 L846.9 286.6 L846.9 285.5 L846.9 284.4 L846.9 283.3 L847.0 282.2 L847.0 281.1 L847.0 280.0 L847.0 278.9 L847.0 277.8 L847.0 276.7 L847.0 275.6 L847.0 274.4 L847.1 273.3 L847.1 272.2 L847.1 271.1 L847.1 270.0 L847.1 268.9 L847.1 267.8 L847.1 266.7 L847.1 265.6 L847.1 264.4 L847.1 263.3 L847.1 262.2 L847.2 261.1 L847.2 260.0 L847.2 258.9 L847.2 257.8 L847.2 256.7 L847.2 255.6 L847.2 254.4 L847.2 253.3 L847.2 252.2 L847.2 251.1 L847.2 250.0 L847.3 248.9 L847.3 247.8 L847.3 246.7 L847.3 245.6 L847.3 244.4 L847.3 243.3 L847.3 242.2 L847.3 241.1 L847.3 240.0 L847.3 238.9 L847.4 237.8 L847.4 236.7 L847.4 235.6 L847.4 234.4 L847.4 233.3 L847.4 232.2 L847.4 231.1 L847.4 230.0 L847.4 228.9 L847.4 227.8 L847.4 226.7 L847.5 225.6 L847.5 224.4 L847.5 223.3 L847.5 222.2 L847.5 221.1 L847.5 220.0 L847.5 218.9 L847.5 217.8 L847.5 216.7 L847.5 215.6 L847.5 214.4 L847.6 213.3 L847.6 212.2 L847.6 211.1 L847.6 210.0 L847.6 208.9 L847.6 207.8 L847.6 206.7 L847.6 205.6 L847.6 204.4 L847.6 203.3 L847.6 202.2 L847.7 201.1 L847.7 200.0 L847.7 198.9 L847.7 197.8 L847.7 196.7 L847.7 195.6 L847.7 194.4 L847.7 193.3 L847.7 192.2 L847.7 191.1 L847.8 190.0 L847.8 188.9 L847.8 187.8 L847.8 186.7 L847.8 185.5 L847.8 184.4 L847.9 183.3 L847.9 182.2 L847.9 181.1 L847.9 180.0 L847.9 178.9 L847.9 177.8 L848.0 176.6 L848.0 175.5 L848.0 174.4 L848.0 173.3 L848.0 172.2 L848.0 171.1 L848.1 170.0 L848.1 168.9 L848.1 167.7 L848.1 166.6 L848.1 165.5 L848.1 164.4 L848.2 163.3 L848.2 162.2 L848.2 161.1 L848.2 159.9 L848.2 158.8 L848.2 157.7 L848.3 156.6 L848.3 155.5 L848.3 154.4 L848.3 153.3 L848.3 152.2 L848.3 151.0 L848.4 149.9 L848.4 148.8 L848.4 147.7 L848.4 146.6 L848.4 145.5 L848.5 144.4 L848.5 143.3 L848.5 142.1 L848.5 141.0 L848.5 139.9 L848.5 138.8 L848.6 137.7 L848.6 136.6 L848.6 135.5 L848.6 134.3 L848.6 133.2 L848.6 132.1 L848.7 131.0 L848.7 129.9 L848.7 128.8 L848.7 127.7 L848.7 126.6 L848.7 125.4 L848.8 124.3 L848.8 123.2 L848.8 122.1 L848.8 121.0 L848.8 119.9 L848.8 118.8 L848.9 117.7 L848.9 116.5 L848.9 115.4 L848.9 114.3 L848.9 113.2 L848.9 112.1 L849.0 111.0 L849.0 109.9 L849.0 108.8 L849.0 109.9 L849.0 111.0 L849.1 112.1 L849.1 113.2 L849.1 114.3 L849.1 115.4 L849.1 116.5 L849.2 117.6 L849.2 118.7 L849.2 119.8 L849.2 120.9 L849.2 122.0 L849.3 123.1 L849.3 124.2 L849.3 125.3 L849.3 126.4 L849.3 127.5 L849.4 128.6 L849.4 129.7 L849.4 130.8 L849.4 131.9 L849.4 133.0 L849.5 134.1 L849.5 135.2 L849.5 136.3 L849.5 137.4 L849.5 138.5 L849.5 139.6 L849.6 140.7 L849.6 141.8 L849.6 142.9 L849.6 144.0 L849.6 145.1 L849.7 146.2 L849.7 147.4 L849.7 148.5 L849.7 149.6 L849.7 150.7 L849.8 151.8 L849.8 152.9 L849.8 154.0 L849.8 155.1 L849.8 156.2 L849.9 157.3 L849.9 158.4 L849.9 159.5 L849.9 160.6 L849.9 161.7 L850.0 162.8 L850.0 163.9 L850.0 165.0 L850.0 166.1 L850.1 167.2 L850.1 168.4 L850.1 169.5 L850.1 170.6 L850.2 171.7 L850.2 172.8 L850.2 173.9 L850.2 175.1 L850.3 176.2 L850.3 177.3 L850.3 178.4 L850.3 179.5 L850.4 180.7 L850.4 181.8 L850.4 182.9 L850.4 184.0 L850.5 185.1 L850.5 186.2 L850.5 187.4 L850.6 188.5 L850.6 189.6 L850.6 190.7 L850.6 191.8 L850.7 193.0 L850.7 194.1 L850.7 195.2 L850.7 196.3 L850.8 197.4 L850.8 198.6 L850.8 199.7 L850.8 200.8 L850.9 201.9 L850.9 203.0 L850.9 204.1 L850.9 205.3 L851.0 206.4 L851.0 207.5 L851.0 206.4 L851.1 205.3 L851.1 204.2 L851.1 203.1 L851.1 202.0 L851.2 200.8 L851.2 199.7 L851.2 198.6 L851.3 197.5 L851.3 196.4 L851.3 195.3 L851.3 194.2 L851.4 193.1 L851.4 192.0 L851.4 190.9 L851.5 189.8 L851.5 188.7 L851.5 187.5 L851.5 186.4 L851.6 185.3 L851.6 184.2 L851.6 183.1 L851.7 182.0 L851.7 180.9 L851.7 179.8 L851.7 178.7 L851.8 177.6 L851.8 176.5 L851.8 175.4 L851.8 174.2 L851.9 173.1 L851.9 172.0 L851.9 170.9 L852.0 169.8 L852.0 168.7 L852.0 167.6 L852.0 166.5 L852.1 165.4 L852.1 164.3 L852.1 163.2 L852.2 162.1 L852.2 160.9 L852.2 159.8 L852.2 158.7 L852.3 157.6 L852.3 156.5 L852.3 155.4 L852.4 154.3 L852.4 153.2 L852.4 152.1 L852.4 151.0 L852.5 149.9 L852.5 148.8 L852.5 149.9 L852.5 151.0 L852.6 152.1 L852.6 153.2 L852.6 154.3 L852.6 155.4 L852.6 156.5 L852.7 157.6 L852.7 158.7 L852.7 159.8 L852.7 160.9 L852.8 162.0 L852.8 163.1 L852.8 164.2 L852.8 165.4 L852.8 166.5 L852.9 167.6 L852.9 168.7 L852.9 169.8 L852.9 170.9 L853.0 172.0 L853.0 173.1 L853.0 174.2 L853.0 175.3 L853.0 176.4 L853.1 177.5 L853.1 178.6 L853.1 179.8 L853.1 180.9 L853.1 182.0 L853.2 183.1 L853.2 184.2 L853.2 185.3 L853.2 186.4 L853.2 187.5 L853.3 188.6 L853.3 189.7 L853.3 190.8 L853.3 191.9 L853.4 193.0 L853.4 194.1 L853.4 195.2 L853.4 196.4 L853.4 197.5 L853.5 198.6 L853.5 199.7 L853.5 200.8 L853.5 201.9 L853.5 203.0 L853.6 204.1 L853.6 205.2 L853.6 206.3 L853.6 207.4 L853.7 208.5 L853.7 209.6 L853.7 210.8 L853.7 211.9 L853.7 213.0 L853.8 214.1 L853.8 215.2 L853.8 216.3 L853.8 217.4 L853.9 218.5 L853.9 219.6 L853.9 220.7 L853.9 221.8 L853.9 222.9 L854.0 224.0 L854.0 225.1 L854.0 226.2 L854.0 225.1 L854.0 224.0 L854.0 222.9 L854.1 221.8 L854.1 220.7 L854.1 219.6 L854.1 218.5 L854.1 217.4 L854.1 216.3 L854.1 215.2 L854.2 214.1 L854.2 213.0 L854.2 211.9 L854.2 210.8 L854.2 209.7 L854.2 208.6 L854.2 207.5 L854.3 206.4 L854.3 205.3 L854.3 204.2 L854.3 203.1 L854.3 202.0 L854.3 200.9 L854.4 199.8 L854.4 198.7 L854.4 197.6 L854.4 196.5 L854.4 195.4 L854.4 194.3 L854.4 193.2 L854.5 192.1 L854.5 191.0 L854.5 189.9 L854.5 188.8 L854.5 187.6 L854.5 186.5 L854.5 185.4 L854.6 184.3 L854.6 183.2 L854.6 182.1 L854.6 181.0 L854.6 179.9 L854.6 178.8 L854.6 177.7 L854.7 176.6 L854.7 175.5 L854.7 174.4 L854.7 173.3 L854.7 172.2 L854.7 171.1 L854.8 170.0 L854.8 168.9 L854.8 167.8 L854.8 166.7 L854.8 165.6 L854.8 164.5 L854.8 163.4 L854.9 162.3 L854.9 161.2 L854.9 160.1 L854.9 159.0 L854.9 157.9 L854.9 156.8 L854.9 155.7 L855.0 154.6 L855.0 153.5 L855.0 152.4 L855.0 151.2 L855.0 152.4 L855.1 153.5 L855.1 154.6 L855.1 155.7 L855.1 156.8 L855.2 157.9 L855.2 159.0 L855.2 160.2 L855.2 161.3 L855.3 162.4 L855.3 163.5 L855.3 164.6 L855.4 165.7 L855.4 166.8 L855.4 168.0 L855.4 169.1 L855.5 170.2 L855.5 171.3 L855.5 172.4 L855.5 173.5 L855.6 174.6 L855.6 175.8 L855.6 176.9 L855.7 178.0 L855.7 179.1 L855.7 180.2 L855.7 181.3 L855.8 182.4 L855.8 183.6 L855.8 184.7 L855.8 185.8 L855.9 186.9 L855.9 188.0 L855.9 189.1 L856.0 190.2 L856.0 191.4 L856.0 192.5 L856.0 193.6 L856.1 194.7 L856.1 195.8 L856.1 196.9 L856.1 198.0 L856.2 199.2 L856.2 200.3 L856.2 201.4 L856.2 202.5 L856.3 203.6 L856.3 204.7 L856.3 205.8 L856.3 206.9 L856.4 208.0 L856.4 209.1 L856.4 210.3 L856.4 211.4 L856.4 212.5 L856.5 213.6 L856.5 214.7 L856.5 215.8 L856.5 216.9 L856.6 218.0 L856.6 219.1 L856.6 220.2 L856.6 221.3 L856.6 222.4 L856.7 223.5 L856.7 224.7 L856.7 225.8 L856.7 226.9 L856.8 228.0 L856.8 229.1 L856.8 230.2 L856.8 231.3 L856.8 232.4 L856.9 233.5 L856.9 234.6 L856.9 235.7 L856.9 236.8 L857.0 237.9 L857.0 239.1 L857.0 240.2 L857.0 241.3 L857.0 242.4 L857.1 243.5 L857.1 244.6 L857.1 245.7 L857.1 246.8 L857.2 247.9 L857.2 249.0 L857.2 250.1 L857.2 251.2 L857.2 252.3 L857.3 253.4 L857.3 254.6 L857.3 255.7 L857.3 256.8 L857.4 257.9 L857.4 259.0 L857.4 260.1 L857.4 261.2 L857.4 262.3 L857.5 263.4 L857.5 264.5 L857.5 265.6 L857.5 266.7 L857.6 267.8 L857.6 269.0 L857.6 270.1 L857.6 271.2 L857.6 272.3 L857.7 273.4 L857.7 274.5 L857.7 275.6 L857.7 276.7 L857.8 277.8 L857.8 278.9 L857.8 280.0 L857.8 281.1 L857.8 282.2 L857.9 283.4 L857.9 284.5 L857.9 285.6 L857.9 286.7 L858.0 287.8 L858.0 288.9 L858.0 290.0 L858.0 291.1 L858.0 292.2 L858.0 293.3 L858.0 294.4 L858.0 295.6 L858.0 296.7 L858.0 297.8 L858.0 298.9 L858.0 300.0 L858.0 301.1 L858.0 302.2 L858.0 303.3 L858.0 304.4 L858.0 305.6 L858.0 306.7 L858.0 307.8 L858.0 308.9 L858.0 310.0 M867.2 360.0 L867.5 363.1 L867.6 366.1 L867.6 367.2 L867.7 368.3 L867.7 369.4 L867.8 370.5 L867.9 371.6 L867.9 372.7 L868.0 373.8 L868.0 374.9 L868.1 376.0 L868.1 377.1 L868.2 378.2 L868.3 379.3 L868.3 380.4 L868.4 381.5 L868.4 382.6 L868.5 383.8 L868.6 384.9 L868.6 386.0 L868.7 387.1 L868.7 388.2 L868.8 389.3 L868.9 390.4 L868.9 391.5 L869.0 392.6 L869.0 393.7 L869.1 394.8 L869.1 395.9 L869.2 397.0 L869.3 398.1 L869.3 399.2 L869.4 400.3 L869.4 401.4 L869.5 402.5 L869.7 404.3 L869.9 399.2 L870.0 402.2 L870.2 397.0 L870.4 399.5 L870.6 393.2 L870.8 396.8 L870.9 391.1 M875.0 390.6 L875.0 389.9 L875.0 391.0 L875.0 392.1 L875.0 393.2 L875.1 394.3 L875.1 395.4 L875.1 396.5 L875.1 397.7 L875.1 398.8 L875.1 399.9 L875.1 401.0 L875.1 402.1 L875.2 403.2 L875.2 404.3 L875.2 405.4 L875.2 406.6 L875.2 407.7 L875.2 408.8 L875.2 409.9 L875.2 411.0 L875.3 412.1 L875.3 413.2 L875.3 414.3 L875.3 415.5 L875.3 416.6 L875.3 417.7 L875.3 418.8 L875.3 419.9 L875.4 421.0 L875.4 422.1 L875.4 423.2 L875.4 424.4 L875.4 425.5 L875.4 426.6 L875.4 427.7 L875.4 428.8 L875.5 429.9 L875.5 431.0 L875.5 432.1 L875.5 433.3 L875.5 434.4 L875.5 435.5 L875.5 436.6 L875.5 437.7 L875.5 438.8 L875.6 439.9 L875.6 441.1 L875.6 442.2 L875.6 443.3 L875.6 444.4 L875.6 445.5 L875.6 446.6 L875.6 447.7 L875.7 448.8 L875.7 450.0 L875.7 451.1 L875.7 452.2 L875.7 453.3 L875.7 454.4 L875.7 455.5 L875.7 456.6 L875.8 457.7 L875.8 458.9 L875.8 460.0 L875.8 461.1 L875.8 462.2 L875.8 463.3 L875.8 464.4 L875.8 465.5 L875.9 466.6 L875.9 467.8 L875.9 468.9 L875.9 470.0 L875.9 471.1 L875.9 472.2 L875.9 473.3 L875.9 474.4 L876.0 475.5 L876.0 476.7 L876.0 477.8 L876.0 478.9 L876.0 480.0 L876.0 481.1 L876.0 482.2 L876.0 483.3 L875.9 484.4 L875.9 485.5 L875.9 486.6 L875.9 487.7 L875.9 488.8 L875.9 489.9 L875.9 491.0 L875.8 492.1 L875.8 493.2 L875.8 494.3 L875.8 495.4 L875.8 496.5 L875.8 497.6 L875.8 498.8 L875.7 499.9 L875.7 501.0 L875.7 502.1 L875.7 503.2 L875.7 504.3 L875.7 505.4 L875.6 506.5 L875.6 507.6 L875.6 508.7 L875.6 509.8 L875.6 510.9 L875.6 512.0 L875.6 513.1 L875.5 514.2 L875.5 515.3 L875.5 516.4 L875.5 517.5 L875.6 516.4 L875.6 515.3 L875.7 514.1 L875.8 513.0 L875.8 511.9 L875.9 510.8 L876.0 509.7 L876.1 508.5 L876.1 507.4 L876.2 506.3 L876.3 505.2 L876.3 504.1 L876.4 502.9 L876.5 501.8 L876.5 500.7 L876.6 499.6 L876.7 498.4 L876.7 497.3 L876.8 496.2 L876.9 495.1 L876.9 494.0 L877.0 492.8 L877.1 491.7 L877.2 490.6 L877.2 489.5 L877.3 488.4 L877.4 487.2 L877.4 486.1 L877.5 485.0 L877.8 481.2 M956.4 438.5 L956.6 433.3 L956.9 436.4 L957.1 432.2 L957.3 434.6 L957.5 429.2 L957.8 432.4 L958.0 428.3 L958.1 424.6 L958.2 428.3 L958.4 422.5 L958.5 424.6 L958.6 420.1 L958.7 423.0 L958.8 418.1 L958.9 420.6 L959.1 416.1 L959.2 417.6 L959.3 412.8 L959.4 415.9 L959.5 412.3 L959.6 415.0 L959.8 409.4 L959.9 412.4 L960.0 409.2 M977.0 380.0 L977.0 378.9 L977.1 377.8 L977.1 376.7 L977.1 375.6 L977.2 374.5 L977.2 373.4 L977.2 372.3 L977.3 371.2 L977.3 370.0 L977.3 368.9 L977.4 367.8 L977.4 366.7 L977.4 365.6 L977.5 364.5 L977.5 363.4 L977.5 362.3 L977.6 361.2 L977.6 360.1 L977.6 359.0 L977.7 357.9 L977.7 356.8 L977.7 355.7 L977.8 354.6 L977.8 353.5 L977.8 352.4 L977.9 351.2 L977.9 350.1 L977.9 349.0 L978.0 347.9 L978.0 346.8 L978.0 345.7 L978.1 344.6 L978.1 343.5 L978.1 342.4 L978.2 341.3 L978.2 340.2 L978.2 339.1 L978.3 338.0 L978.3 336.9 L978.3 335.8 L978.4 334.7 L978.4 333.6 L978.4 332.5 L978.5 331.3 L978.5 330.2 L978.5 329.1 L978.6 328.0 L978.6 326.9 L978.6 325.8 L978.7 324.7 L978.7 323.6 L978.8 322.5 L978.8 323.8 L978.9 320.6 L979.0 322.0 L979.1 318.2 L979.2 319.3 L979.3 315.7 L979.4 317.4 L979.5 314.5 M981.3 292.4 L981.3 293.5 L981.4 294.6 L981.4 295.7 L981.5 296.8 L981.5 297.9 L981.6 299.0 L981.6 300.1 L981.7 301.2 L981.7 302.3 L981.8 303.4 L981.8 304.5 L981.9 305.6 L981.9 306.7 L982.0 307.8 L982.0 308.9 L982.1 310.0 L982.1 311.1 L982.2 312.2 L982.2 313.3 L982.3 314.4 L982.3 315.5 L982.4 316.6 L982.4 317.7 L982.5 318.8 L982.5 319.9 L982.6 321.0 L982.6 322.1 L982.7 323.2 L982.7 324.3 L982.8 325.4 L982.8 326.5 L982.9 327.6 L982.9 328.8 L983.0 329.9 L983.0 331.0 L983.1 332.1 L983.1 333.2 L983.2 334.3 L983.2 335.4 L983.3 336.5 L983.3 337.6 L983.4 338.7 L983.4 339.8 L983.5 340.9 L983.5 342.0 L983.6 343.1 L983.6 344.2 L983.7 345.3 L983.7 346.4 L983.8 347.5 M990.0 368.1 L990.0 365.1 L990.1 364.0 L990.1 362.9 L990.2 361.8 L990.2 360.7 L990.3 359.6 L990.3 358.5 L990.4 357.3 L990.4 356.2 L990.5 355.1 L990.5 354.0 L990.5 352.9 L990.6 351.8 L990.6 350.7 L990.7 349.5 L990.7 348.4 L990.8 347.3 L990.8 346.2 L990.9 345.1 L990.9 344.0 L991.0 342.9 L991.0 341.8 L991.0 340.6 L991.1 339.5 L991.1 338.4 L991.2 337.3 L991.2 336.2 L991.3 335.1 L991.3 334.0 L991.4 332.8 L991.4 331.7 L991.5 330.6 L991.5 329.5 L991.5 328.4 L991.6 327.3 L991.6 326.2 L991.7 325.0 L991.7 323.9 L991.8 322.8 L991.8 321.7 L991.9 320.6 L991.9 319.5 L992.0 318.4 L992.0 317.2 L992.0 316.1 L992.1 315.0 L992.1 313.9 L992.2 312.8 L992.2 311.7 L992.3 310.6 L992.3 309.5 L992.4 308.3 L992.4 307.2 L992.5 306.1 L992.5 305.0 M995.1 300.9 L995.2 304.7 L995.3 302.8 L995.4 307.6 L995.5 304.0 L995.6 308.5 L995.7 306.8 L995.8 311.1 L995.9 310.1 L996.0 314.3 L996.1 311.0 L996.2 316.4 L996.2 313.7 L996.3 319.0 L996.4 316.1 L996.5 320.7 L996.6 318.2 L996.7 323.2 L996.8 320.1 L996.9 324.5 L997.0 323.4 L997.1 327.2 L997.2 325.0 L997.3 329.1 L997.4 326.8 L997.5 330.1 L997.6 334.4 L997.7 329.6 L997.9 335.8 L998.0 331.9 L998.1 337.2 L998.2 333.8 L998.3 339.1 L998.5 335.4 L998.6 342.1 L998.7 338.7 L998.8 342.8 L998.9 339.8 L999.1 345.3 L999.2 341.4 L999.3 346.2 L999.4 342.8 L999.5 348.8 L999.7 345.7 L999.8 351.4 L999.9 347.1 L1000.0 352.5 L1000.1 349.7 L1000.3 354.4 L1000.4 352.2 L1000.5 354.2 M1002.8 359.5 L1002.9 364.1 L1003.1 361.0 L1003.2 365.6 L1003.3 362.6 L1003.4 368.0 L1003.5 365.3 L1003.6 370.2 L1003.7 368.0 L1003.8 372.4 L1003.9 369.4 L1004.0 374.0 L1004.2 371.5 L1004.3 376.3 L1004.4 373.5 L1004.5 378.1 L1004.6 375.7 L1004.7 380.6 L1004.8 376.9 L1004.9 381.4 L1005.0 379.0 L1005.1 384.9 L1005.3 382.1 L1005.4 385.5 L1005.5 382.8 L1005.6 389.1 L1005.7 386.4 L1005.8 390.8 L1005.9 387.0 L1006.0 391.9 L1006.1 389.3 L1006.2 392.6 M1008.8 386.1 L1008.9 387.2 L1008.9 388.4 L1009.0 389.5 L1009.1 390.6 L1009.1 391.7 L1009.2 392.9 L1009.3 394.0 L1009.3 395.1 L1009.4 396.2 L1009.5 397.3 L1009.5 398.5 L1009.6 399.6 L1009.6 400.7 L1009.7 401.8 L1009.8 402.9 L1009.8 404.1 L1009.9 405.2 L1010.0 406.3 L1010.0 407.4 L1010.1 408.6 L1010.2 409.7 L1010.2 410.8 L1010.3 411.9 L1010.4 413.0 L1010.4 414.2 L1010.5 415.3 L1010.5 416.4 L1010.6 417.5 L1010.7 418.7 L1010.7 419.8 L1010.8 420.9 L1010.9 422.0 L1010.9 423.1 L1011.0 424.3 L1011.1 425.4 L1011.1 426.5 L1011.2 427.6 L1011.2 428.8 M1032.6 360.0 L1032.8 363.8 L1032.9 362.0 L1033.1 366.7 L1033.2 363.3 L1033.3 367.8 L1033.5 365.2 L1033.6 369.9 L1033.8 367.9 L1033.9 371.9 L1034.0 369.8 L1034.2 374.3 L1034.3 370.9 L1034.4 376.9 L1034.6 373.3 L1034.7 379.2 L1034.9 376.6 L1035.0 379.4 L1035.1 382.5 L1035.2 380.8 L1035.3 384.2 L1035.4 382.4 L1035.5 387.1 L1035.6 384.5 L1035.7 387.9 M1041.2 415.3 L1041.3 413.9 L1041.3 412.8 L1041.4 411.6 L1041.4 410.5 L1041.5 409.4 L1041.5 408.2 L1041.5 407.1 L1041.6 406.0 L1041.6 404.9 L1041.7 403.8 L1041.7 402.6 L1041.8 401.5 L1041.8 400.4 L1041.8 399.2 L1041.9 398.1 L1041.9 397.0 L1042.0 395.9 L1042.0 394.8 L1042.0 393.6 L1042.1 392.5 L1042.1 391.4 L1042.2 390.2 L1042.2 389.1 L1042.2 388.0 L1042.3 386.9 L1042.3 385.8 L1042.4 384.6 L1042.4 383.5 L1042.5 382.4 L1042.5 381.2 L1042.8 385.6 L1043.1 382.0 L1043.4 387.8 M1046.1 380.0 L1046.2 376.8 L1046.3 379.2 L1046.4 373.5 L1046.6 375.8 L1046.7 372.0 L1046.8 374.6 L1046.9 368.1 L1047.0 372.0 L1047.1 366.1 L1047.2 369.7 L1047.3 365.2 L1047.4 366.8 L1047.6 363.0 L1047.7 364.6 L1047.8 360.7 L1047.9 362.2 L1048.0 360.2 L1048.0 358.9 L1048.1 357.8 L1048.2 356.6 L1048.2 355.5 L1048.2 354.4 L1048.3 353.2 L1048.3 352.1 L1048.4 351.0 L1048.5 349.9 L1048.5 348.8 L1048.5 347.6 L1048.6 346.5 L1048.7 345.4 L1048.7 344.2 L1048.8 343.1 L1048.8 342.0 L1048.8 340.9 L1048.9 339.8 L1049.0 338.6 L1049.0 337.5 L1049.0 336.4 L1049.1 335.2 L1049.2 334.1 L1049.2 333.0 L1049.2 331.9 L1049.3 330.8 L1049.3 329.6 L1049.4 328.5 L1049.5 327.4 L1049.5 326.2 L1049.5 325.1 L1049.6 324.0 L1049.7 322.9 L1049.7 321.8 L1049.8 320.6 L1049.8 319.5 L1049.8 318.4 L1049.9 317.2 L1050.0 316.1 L1050.0 315.0 L1050.1 316.1 L1050.1 317.2 L1050.2 318.3 L1050.3 319.4 L1050.3 320.6 L1050.4 321.7 L1050.5 322.8 L1050.6 323.9 L1050.6 325.0 L1050.7 326.1 L1050.8 327.2 L1050.8 328.3 L1050.9 329.4 L1051.0 330.6 L1051.0 331.7 L1051.1 332.8 L1051.2 333.9 L1051.2 335.0 L1051.3 336.1 L1051.4 337.2 L1051.5 338.3 L1051.5 339.4 L1051.6 340.6 L1051.7 341.7 L1051.7 342.8 L1051.8 343.9 L1051.9 345.0 L1051.9 346.1 L1052.0 347.2 L1052.1 348.3 L1052.2 349.4 L1052.2 350.6 L1052.3 351.7 L1052.4 352.8 L1052.4 353.9 L1052.5 355.0 L1052.6 352.6 L1052.7 353.9 L1052.8 349.0 L1052.9 351.3 L1053.0 347.2 L1053.1 348.3 L1053.2 344.4 L1053.3 346.3 L1053.4 342.3 L1053.5 343.5 L1053.5 339.7 L1053.6 341.9 L1053.7 337.9 M1054.4 332.6 L1054.5 330.5 L1054.6 328.6 L1054.8 333.9 L1054.9 331.6 L1055.0 337.7 L1055.2 334.4 L1055.3 340.7 L1055.4 335.9 L1055.6 342.0 L1055.7 338.7 L1055.8 345.5 L1055.9 341.0 L1056.1 347.0 L1056.2 343.0 L1056.3 349.3 L1056.5 344.7 L1056.6 350.0 L1056.7 346.7 L1056.9 353.0 L1057.0 351.2 L1057.0 353.6 L1057.1 354.7 L1057.1 355.8 L1057.2 356.9 L1057.2 358.1 L1057.3 359.2 L1057.3 360.3 L1057.4 361.4 L1057.4 362.5 L1057.5 363.6 L1057.5 364.7 L1057.6 365.8 L1057.6 366.9 L1057.7 368.1 L1057.7 369.2 L1057.8 370.3 L1057.8 371.4 L1057.9 372.5 L1057.9 373.6 L1058.0 374.7 L1058.0 375.8 L1058.1 376.9 L1058.1 378.1 L1058.2 379.2 L1058.2 380.3 L1058.3 381.4 L1058.3 382.5 L1058.4 383.6 L1058.4 384.7 L1058.5 385.8 L1058.5 386.9 L1058.6 388.1 L1058.6 389.2 L1058.7 390.3 L1058.7 391.4 L1058.8 392.5" fill="none" stroke="#0f4fa6" stroke-width="3.0" stroke-linejoin="round" stroke-linecap="round"/>
<path d="M106.2 626.2 L106.8 626.0 L107.2 628.3 L107.8 627.8 L108.2 630.4 L108.8 630.9 L109.2 629.3 L109.7 630.0 L110.1 628.5 L110.6 629.0 L111.0 626.0 L111.5 625.8 L111.9 622.6 L112.4 623.2 L112.8 620.1 L113.3 621.3 L113.8 619.8 L115.0 619.6 L116.2 620.7 L117.5 618.8 L118.8 619.9 L120.0 617.3 L121.2 618.5 L121.7 618.6 L122.2 615.7 L122.7 616.3 L123.1 613.9 L123.6 615.1 L124.1 612.7 L124.5 612.8 L125.0 611.2 L125.3 608.9 L125.7 609.9 L126.0 606.9 L126.3 608.2 M126.7 604.7 L127.0 605.9 M127.3 602.5 L127.7 603.3 M128.0 599.9 L128.3 601.0 M128.7 597.0 L129.0 597.8 L129.3 595.6 L129.7 595.9 L130.0 594.2 L130.6 594.0 L131.2 597.5 L131.9 596.5 L132.5 599.3 L133.1 598.6 L133.8 600.4 L134.3 602.0 L134.8 601.2 L135.4 603.8 L135.9 602.8 L136.4 606.3 L137.0 605.2 L137.5 607.5 L138.2 609.9 L139.0 608.4 L139.8 612.1 L140.5 610.7 L141.2 612.5 L141.6 612.0 L141.9 609.0 L142.2 610.5 M142.6 606.7 L142.9 608.0 L143.2 605.1 L143.5 605.9 L143.9 603.1 L144.2 604.5 L144.5 601.9 L144.8 602.2 L145.2 599.3 L145.5 599.4 L145.8 601.8 L146.1 600.8 L146.3 603.5 L146.6 602.5 L146.9 604.9 L147.2 604.6 M147.4 607.6 L147.7 606.4 L148.0 608.9 L148.6 608.6 L149.3 606.4 L149.9 606.6 L150.6 603.6 L151.2 604.0 L151.8 600.5 L152.5 602.5 L153.1 599.4 L153.8 599.7 L154.6 600.3 L155.5 597.0 L156.4 597.1 L157.3 595.5 L158.2 597.0 L159.1 595.6 L160.0 595.8 L160.5 595.8 L161.0 593.0 L161.5 593.5 L162.0 591.2 L162.5 591.8 L163.0 588.5 L163.5 589.6 L164.0 585.7 L164.5 587.0 L165.0 585.2 L166.0 583.8 L167.0 585.3 L168.0 582.6 L169.0 583.9 L170.0 581.8 L170.8 581.5 L171.7 584.8 L172.5 583.2 L173.3 586.7 L174.2 585.8 L175.0 587.7 L175.5 588.0 L176.0 585.1 L176.5 585.7 L177.0 582.4 L177.5 583.9 L178.0 580.5 L178.5 580.9 L179.0 578.3 L179.5 579.3 L180.0 577.2 L180.7 575.8 L181.4 576.6 L182.1 573.2 L182.8 573.9 L183.5 571.0 L184.2 572.2 L184.9 569.1 L185.6 570.6 L186.2 568.9 L187.2 566.8 L188.1 568.8 L189.1 565.8 L190.0 564.9 L190.1 564.3 M190.5 559.3 L190.6 560.0 M190.8 556.4 L190.9 557.5 M191.0 554.4 L191.1 555.3 M191.5 550.3 L191.6 551.2 M191.8 547.5 L191.9 548.6 M192.2 543.9 L192.4 544.7 M192.6 540.8 L192.7 540.8 M192.8 539.0 L192.8 538.7 M192.9 536.5 L193.0 536.4 M193.1 534.5 L193.2 534.3 M193.3 532.0 L193.4 532.2 M193.4 529.8 L193.5 529.8 M193.6 527.9 L193.7 527.9 M193.8 525.3 L193.9 525.5 M194.0 523.5 L194.1 523.1 M194.1 521.1 L194.2 520.9 M194.3 518.7 L194.4 519.1 M194.5 516.9 L194.6 516.6 M194.7 514.2 L194.7 514.6 M194.8 512.0 L194.9 512.2 M206.1 413.6 L206.2 413.5 M207.0 441.0 L207.2 441.3 L207.5 439.7 M207.8 444.2 L208.0 441.8 M208.2 446.2 L208.5 444.1 M209.8 454.9 L210.0 454.5 L210.2 455.0 M211.1 464.2 L211.3 462.3 M211.9 468.3 L212.1 466.5 M213.0 471.7 L213.1 471.4 M214.3 456.8 L214.4 457.7 M215.2 449.0 L215.3 449.7 M215.4 447.0 L215.5 447.7 M216.8 435.9 L217.0 433.9 L217.2 435.6 M217.4 432.1 L217.6 434.2 M218.3 428.4 L218.5 429.7 M220.5 419.0 L220.8 418.3 M221.2 423.2 L221.5 420.1 M221.8 424.9 L222.2 421.7 M222.5 425.7 L222.8 423.2 M223.2 428.2 L223.5 426.8 L223.6 427.0 M223.7 428.9 L223.7 429.0 M223.8 431.3 L223.9 430.9 M224.0 433.2 L224.1 433.1 M224.1 435.6 L224.2 435.6 M224.3 437.6 L224.4 437.8 M224.4 439.9 L224.5 439.7 M224.6 442.1 L224.7 441.8 M224.8 444.2 L224.8 444.0 M224.9 446.3 L225.0 446.8 M225.2 444.2 L225.4 445.8 M225.6 441.9 L225.8 442.7 M226.3 437.2 L226.5 438.1 M227.1 432.8 L227.2 432.5 M228.9 452.7 L229.0 452.0 L229.1 452.7 M229.2 455.1 L229.3 454.5 M229.4 458.0 L229.5 457.1 M229.6 459.6 L229.7 459.5 M229.9 464.5 L230.0 464.0 M230.1 466.6 L230.2 466.1 M230.3 468.8 L230.4 468.5 M232.1 483.6 L232.2 482.8 M232.4 486.7 L232.5 485.8 L232.7 484.7 M233.2 492.0 L233.4 490.3 M233.6 493.5 L233.8 492.4 M234.0 496.1 L234.1 494.4 M234.3 497.7 L234.5 497.8 L234.7 497.3 M235.2 505.0 L235.4 503.4 M236.0 509.9 L236.1 509.3 M236.3 512.3 L236.5 513.0 L236.6 513.1 M236.8 517.0 L236.9 516.3 M237.0 519.5 L237.2 518.3 M237.9 526.5 L238.0 526.1 L238.5 525.6 L239.1 529.5 L239.6 526.5 L240.2 530.3 L240.7 528.2 L241.2 530.1 L241.5 532.6 L241.8 530.4 M242.0 534.5 L242.2 533.0 M242.5 537.7 L242.8 535.8 M243.0 539.1 L243.2 538.5 M243.5 542.1 L243.8 540.3 M244.5 545.8 L244.8 545.1 L245.0 547.0 L245.4 546.7 L245.7 543.8 L246.1 545.0 M246.4 541.0 L246.8 543.8 L247.1 540.4 L247.5 540.6 M247.7 543.6 L247.9 542.2 M248.1 545.7 L248.3 544.4 M248.5 547.8 L248.7 547.4 M248.8 550.7 L249.0 549.1 M249.2 552.0 L249.4 550.7 M249.6 554.3 L249.8 553.3 L250.0 554.9 L250.3 556.7 L250.5 555.4 M250.8 558.7 L251.1 558.0 M251.3 561.3 L251.6 559.6 M251.9 563.5 L252.1 562.6 M252.4 565.7 L252.7 565.4 M252.9 568.8 L253.2 568.0 M253.5 571.2 L253.8 570.8 L254.6 568.5 L255.5 569.9 L256.4 566.3 L257.3 567.7 L258.2 564.3 L259.1 566.4 L260.0 564.2 L260.6 562.6 L261.2 564.2 L261.9 560.8 L262.5 561.3 M262.8 563.8 L263.0 562.5 M263.2 565.8 L263.5 563.7 M263.8 567.8 L264.0 566.4 M264.2 569.2 L264.5 568.5 M264.8 571.7 L265.0 570.6 M265.2 574.3 L265.5 573.0 M265.8 576.1 L266.0 575.3 L266.2 577.7 L266.5 577.9 M266.8 575.0 L267.1 576.0 M267.3 572.1 L267.6 572.8 M267.9 569.4 L268.1 570.5 M268.4 567.7 L268.7 568.8 M268.9 565.0 L269.2 566.4 M269.5 563.0 L269.7 564.5 L270.0 562.5 L270.6 561.0 L271.2 562.1 L271.9 559.5 L272.5 560.2 L273.1 555.9 L273.8 555.9 L274.1 558.2 L274.4 556.5 M274.7 560.0 L275.0 559.1 L275.3 562.0 L275.6 560.4 M275.9 563.6 L276.2 563.3 M276.6 566.7 L276.9 565.9 M277.2 569.7 L277.5 570.2 L278.0 570.7 L278.4 573.9 L278.9 572.9 L279.3 576.5 L279.8 575.3 L280.2 578.8 L280.7 577.8 L281.1 580.1 L281.6 579.6 L282.0 581.6 L282.5 581.9 M282.7 579.4 L282.9 580.9 M283.1 577.7 L283.3 578.0 M283.5 575.2 L283.7 576.3 M283.9 572.4 L284.1 574.0 M284.3 570.3 L284.5 571.0 M284.7 568.2 L284.9 568.8 M285.1 565.8 L285.3 567.0 M285.5 564.0 L285.7 564.6 M285.9 561.2 L286.1 562.3 L286.2 560.7 M286.8 555.8 L287.0 557.5 M287.2 554.2 L287.4 555.7 M288.0 549.6 L288.2 550.9 M288.4 547.1 L288.6 548.9 M288.8 546.5 L289.0 546.3 M289.3 550.3 L289.6 549.4 M289.9 552.5 L290.1 550.3 M290.4 553.5 L290.7 551.8 M291.0 554.9 L291.2 554.5 L292.5 552.3 L293.8 554.8 L295.0 553.3 L295.3 553.6 L295.6 556.3 L295.9 554.7 M296.2 558.0 L296.6 556.6 M296.9 560.7 L297.2 558.7 M297.5 562.3 L297.8 561.4 M298.1 565.5 L298.4 565.0 L298.8 566.8 L299.5 566.8 L300.2 564.0 L301.0 564.3 L301.8 561.6 L302.5 562.0 L302.9 564.9 L303.2 563.6 L303.6 567.3 L304.0 565.7 L304.4 568.9 L304.8 568.0 M305.1 571.9 L305.5 570.4 M305.9 574.5 L306.2 574.4 L307.5 573.0 L308.8 574.5 L310.0 572.1 L310.3 571.6 M310.5 575.4 L310.8 573.4 M311.1 576.8 L311.3 575.5 M311.6 578.8 L311.9 578.2 L312.1 580.3 L312.4 580.2 L312.7 582.5 L312.9 582.3 M313.2 585.4 L313.5 584.6 L313.8 587.3 L314.2 589.9 L314.8 589.6 L315.2 593.0 L315.8 592.0 L316.2 593.6 L316.7 593.4 L317.1 590.1 L317.5 591.1 L317.9 588.4 L318.3 589.3 L318.8 586.7 L319.3 586.3 L319.8 589.3 L320.3 588.3 L320.8 591.0 L321.4 589.6 L321.9 592.2 L322.4 592.0 L322.9 594.1 L323.4 593.2 L324.0 596.0 L324.5 595.7 L325.0 598.3 L325.5 598.4 L325.9 596.5 L326.4 597.3 L326.8 594.9 L327.3 595.2 L327.7 592.8 L328.2 592.6 L328.6 590.2 L329.1 590.7 L329.5 588.4 L330.0 588.1 L330.8 587.9 L331.5 585.6 L332.2 586.4 L333.0 583.2 L333.8 583.4 L334.2 585.0 L334.7 584.6 L335.2 587.5 L335.6 587.1 L336.1 590.2 L336.6 589.2 L337.0 591.5 L337.5 592.1 L338.1 590.2 L338.8 590.4 L339.4 587.3 L340.0 587.9 L340.6 585.2 L341.2 585.4 L341.9 582.7 L342.5 583.0 L343.6 583.5 L344.7 581.2 L345.8 583.5 L346.9 581.0 L348.0 583.1 L349.1 581.1 L350.2 582.1 L351.2 580.8 L352.2 580.0 L353.1 582.9 L354.1 581.3 L355.0 582.6 L355.2 582.1 M355.4 579.1 L355.7 580.8 M355.9 576.9 L356.1 577.5 L356.3 575.3 L356.5 575.3 M356.8 572.8 L357.0 572.8 M357.2 570.5 L357.4 571.2 M357.6 567.1 L357.9 568.3 M358.1 564.6 L358.3 566.2 M358.5 562.4 L358.8 562.7 L359.1 563.4 M359.4 559.1 L359.7 560.5 L360.0 558.0 L360.3 559.3 M360.6 555.4 L360.9 556.9 L361.2 554.3 L361.6 555.7 M361.9 552.2 L362.2 552.8 L362.5 550.6 M362.7 548.5 L362.8 549.8 M363.0 545.4 L363.1 546.9 M364.3 536.9 L364.4 537.8 M364.9 532.4 L365.1 533.0 M365.6 527.1 L365.8 527.6 M365.9 529.9 L366.0 528.6 M366.2 531.9 L366.3 530.6 M366.5 534.0 L366.6 533.3 M367.0 538.7 L367.2 538.3 M368.2 548.8 L368.3 547.4 M368.5 550.6 L368.6 550.1 M369.1 554.9 L369.2 554.1 M369.4 557.2 L369.5 557.7 L369.7 556.0 L369.9 556.9 M370.0 553.7 L370.2 554.1 M370.4 551.6 L370.6 552.6 M370.8 548.8 L370.9 549.5 M371.1 547.0 L371.3 548.5 M371.5 544.7 L371.6 545.8 M371.8 542.2 L372.0 543.8 M372.5 537.5 L372.7 538.3 M372.9 535.3 L373.1 535.4 M373.2 533.3 L373.9 531.8 L374.5 534.4 L375.1 533.6 L375.7 537.4 L376.3 535.9 L376.9 539.8 L377.5 539.3 L378.2 540.1 L379.0 543.4 L379.8 542.6 L380.5 546.2 L381.2 545.7 L381.4 545.4 M382.4 554.9 L382.5 555.2 L383.8 552.4 L385.0 555.6 L386.2 555.2 L387.1 554.1 L387.9 556.7 L388.8 554.9 L389.6 558.5 L390.4 557.1 L391.2 559.4 L391.4 558.7 M391.6 555.7 L391.8 556.5 M392.0 553.4 L392.1 553.9 M392.3 549.8 L392.5 551.0 M392.7 547.1 L392.9 548.5 M393.0 544.9 L393.2 545.4 M393.8 540.9 L394.0 538.8 L394.3 539.7 L394.6 537.1 L394.8 537.8 M395.1 534.2 L395.4 536.7 M395.6 532.3 L395.9 534.9 M396.2 530.3 L396.4 532.4 M396.7 528.0 L397.0 529.3 M397.2 524.9 L397.5 525.7 L397.9 526.4 M398.2 521.8 L398.6 524.5 M398.9 520.9 L399.3 523.3 M399.6 519.5 L400.0 521.0 L400.2 522.1 M400.7 515.7 L400.9 516.1 M401.1 512.5 L401.3 514.0 M401.8 508.6 L402.0 509.9 M402.2 505.9 L402.3 507.1 M403.2 500.8 L403.4 501.2 M403.6 504.4 L403.9 503.2 M404.1 506.6 L404.2 506.1 M405.6 515.3 L405.9 514.3 M406.1 517.7 L406.2 517.3 L406.9 516.4 L407.5 519.8 L408.1 517.8 L408.8 519.6 L409.2 520.2 L409.6 516.1 L410.0 517.5 M410.4 513.2 L410.8 515.9 L411.2 513.1 L411.6 513.2 M411.9 516.4 L412.2 514.8 M412.5 518.4 L412.8 518.1 M413.1 521.5 L413.4 519.8 M413.8 523.2 L414.1 522.8 L414.4 525.5 L414.7 523.9 L415.0 526.7 L415.8 526.8 L416.7 522.5 L417.5 523.5 M418.1 527.5 L418.2 527.1 M418.4 529.7 L418.6 529.0 M418.8 532.6 L419.0 532.1 M419.2 535.5 L419.4 534.7 M419.6 537.7 L419.8 537.1 M419.9 541.0 L420.1 539.5 M420.3 542.8 L420.5 542.6 M420.7 545.6 L420.9 544.4 M421.1 548.3 L421.2 547.9 L422.5 545.9 L423.8 549.4 L425.0 548.5 M425.1 547.1 L425.2 546.8 M425.3 544.5 L425.4 545.0 M425.4 542.5 L425.5 542.8 M425.6 540.2 L425.7 540.3 M425.8 538.3 L425.9 537.9 M426.0 535.8 L426.1 536.3 M426.2 533.4 L426.2 533.8 M426.3 531.3 L426.4 532.0 M426.5 529.0 L426.6 529.5 M426.7 527.1 L426.8 527.3 M426.9 525.1 L427.0 524.9 M427.1 522.5 L427.1 523.3 M427.2 520.5 L427.3 520.7 M427.4 518.4 L427.5 517.9 L427.6 518.5 M428.3 510.2 L428.4 511.5 M429.1 502.3 L429.2 503.4 M429.6 497.5 L429.8 498.9 M431.4 488.5 L431.5 489.1 M431.6 491.0 L431.6 491.4 M431.7 493.0 L431.8 493.4 M431.9 495.4 L431.9 495.8 M432.0 497.4 L432.1 498.0 M432.2 499.5 L432.2 500.2 M432.3 502.0 L432.4 502.5 M432.5 504.0 L432.5 504.6 M432.6 506.1 L432.7 506.7 M432.8 508.5 L432.8 508.8 M432.9 510.7 L433.0 511.0 M433.1 512.7 L433.1 513.4 M433.2 515.2 L433.3 515.7 M433.4 517.1 L433.4 517.7 M433.5 519.3 L433.6 519.9 M433.8 522.4 L434.0 522.0 M434.3 526.0 L434.6 524.2 M434.8 528.0 L435.1 526.3 M435.4 530.2 L435.6 527.7 M435.9 531.9 L436.2 530.6 L436.4 533.2 L436.7 531.9 M437.0 535.5 L437.2 535.0 L437.5 537.1 L437.7 537.8 M437.8 533.3 L438.0 534.7 M438.4 530.0 L438.6 530.8 M439.1 526.1 L439.2 526.9 M439.4 524.2 L439.5 524.5 M440.0 520.0 L441.0 517.4 L442.0 517.9 L443.0 514.8 L444.0 518.6 L445.0 515.2 M446.0 505.7 L446.2 506.4 M447.5 497.1 L447.9 494.5 L448.2 496.8 L448.6 493.3 L449.0 495.7 M449.4 490.1 L449.8 491.8 M450.1 487.1 L450.5 488.0 M450.9 492.6 L451.1 491.8 M451.8 500.4 L451.9 500.3 M452.4 507.2 L452.5 506.3 L453.8 504.4 L455.0 505.9 L456.2 504.0 L456.6 503.4 M457.0 507.3 L457.3 506.2 M457.7 510.3 L458.1 509.1 L458.4 512.5 L458.8 510.8 L459.1 514.4 L459.5 514.0 L459.9 511.5 L460.4 512.9 L460.8 509.7 L461.2 511.6 M461.6 507.0 L462.1 510.4 M462.5 505.3 L462.9 508.0 M463.3 503.8 L463.8 503.6 L464.3 506.7 L464.8 504.5 L465.4 507.4 L465.9 506.1 L466.4 510.3 L467.0 508.3 L467.5 509.9 M467.7 512.5 L467.9 510.8 M469.1 519.9 L469.3 518.4 M469.5 522.4 L469.6 521.3 M469.8 524.5 L470.0 524.5 L471.0 522.0 L472.0 525.4 L473.0 523.9 L473.2 522.3 L473.3 523.9 M473.8 517.9 L474.0 518.8 M474.8 509.9 L475.0 510.3 L475.2 512.5 L475.5 511.1 M475.7 514.5 L475.9 512.9 M476.2 516.3 L476.4 514.9 M476.6 519.8 L476.9 517.7 M477.1 521.4 L477.3 520.9 M477.6 524.4 L477.8 523.0 M478.0 526.7 L478.3 526.5 M478.5 529.4 L478.8 529.3 L479.0 529.2 L479.3 531.7 L479.6 530.6 M479.8 534.7 L480.1 532.4 M480.4 536.3 L480.6 533.9 M480.9 538.4 L481.2 536.0 M481.4 540.2 L481.7 538.6 M482.0 542.0 L482.2 540.7 M482.5 543.6 L482.9 545.9 L483.3 544.7 L483.8 548.7 L484.2 547.1 L484.6 549.9 L485.0 548.5 L485.4 552.5 L485.8 551.8 L486.2 553.7 L487.0 555.6 L487.8 555.1 L488.5 557.3 L489.2 555.8 L490.0 558.1 L490.9 558.7 L491.9 556.8 L492.8 557.7 L493.8 555.3 M493.9 552.9 L494.1 553.9 M494.3 550.2 L494.5 551.7 M494.7 548.0 L494.8 548.7 M495.4 543.8 L495.6 544.5 M496.1 539.2 L496.3 539.3 M496.5 536.3 L496.6 537.5 M496.8 533.4 L497.0 534.0 L497.2 534.5 M497.4 530.5 L497.5 531.6 M498.1 525.8 L498.2 526.7 M498.4 523.5 L498.6 524.6 M498.8 521.2 L499.0 522.6 M499.1 518.0 L499.3 519.8 M499.5 517.2 L499.7 517.6 M499.9 520.6 L500.0 519.5 M500.9 528.4 L501.1 526.7 M501.3 530.2 L501.5 529.6 M501.6 533.8 L501.8 532.5 M502.0 534.7 L502.5 537.6 L503.0 536.4 L503.5 540.5 L504.0 539.0 L504.5 543.2 L505.0 542.3 L505.2 541.5 M505.5 545.8 L505.7 544.4 M505.9 546.9 L506.2 546.0 M506.4 549.0 L506.6 548.0 M506.9 551.4 L507.1 549.8 M507.8 553.9 L508.0 552.4 M508.3 556.0 L508.5 555.2 L508.8 557.1 L510.0 557.6 L511.2 556.3 L512.5 558.6 L513.8 557.5 L514.2 555.4 L514.6 557.0 M515.0 552.7 L515.4 553.8 L515.8 550.9 L516.2 551.7 L516.7 548.7 L517.1 549.1 L517.5 547.0 L517.8 547.1 M518.0 550.4 L518.3 549.0 L518.6 551.6 L518.9 551.1 M519.1 554.0 L519.4 552.7 M519.7 555.8 L520.0 554.7 M520.2 558.1 L520.5 558.6 L520.7 558.4 M520.9 562.2 L521.1 561.4 M521.3 564.7 L521.5 563.5 M521.7 566.8 L521.9 565.6 M522.1 569.2 L522.3 568.2 M522.5 571.1 L522.7 570.4 M522.9 574.6 L523.1 573.3 M523.3 576.8 L523.5 576.1 M523.8 578.1 L524.2 581.0 L524.6 579.5 L525.0 582.4 L525.4 581.2 L525.8 585.1 L526.2 584.5 M526.6 580.1 L526.8 580.7 M526.9 577.7 L527.0 578.7 M527.4 574.0 L527.5 574.6 M528.1 567.1 L528.2 568.1 M528.6 563.0 L528.8 563.3 M529.4 555.3 L529.5 555.7 L530.1 557.4 L530.7 554.9 L531.3 558.8 L531.9 557.1 L532.5 559.9 L532.8 562.1 L533.1 561.9 M533.4 565.1 L533.8 563.4 M534.1 566.7 L534.4 565.5 M534.7 568.7 L535.0 568.4 M535.2 566.3 L535.4 567.3 M535.6 563.5 L535.8 564.4 M535.9 561.6 L536.1 562.4 M536.3 559.2 L536.5 560.5 M536.7 557.2 L536.9 557.9 M537.1 555.0 L537.2 555.8 M537.4 552.4 L537.6 553.3 M537.8 550.9 L538.0 550.5 L538.3 552.9 L538.5 552.4 M538.8 555.8 L539.1 555.3 M539.4 558.1 L539.6 557.7 M539.9 561.9 L540.2 560.1 M540.4 564.2 L540.7 563.1 L541.0 565.5 L541.2 565.7 L541.6 565.6 L542.0 568.0 L542.3 566.1 L542.7 569.1 L543.0 567.8 M543.4 571.6 L543.8 571.7 L544.1 569.6 L544.4 570.3 M544.7 566.7 L545.0 568.0 L545.4 564.9 L545.7 566.1 L546.0 563.1 L546.4 563.4 M546.7 559.7 L547.0 560.3 L547.4 560.7 M547.7 557.0 L548.1 559.4 L548.4 556.3 L548.8 557.7 M549.1 554.1 L549.5 554.9 L549.9 556.9 L550.2 556.0 M550.6 559.8 L551.0 558.1 L551.4 561.5 L551.8 560.3 L552.1 563.4 L552.5 563.1 L553.8 562.5 L555.0 565.1 L556.2 564.8 L556.6 565.1 L557.0 568.5 L557.3 566.5 L557.7 569.9 L558.1 568.3 L558.4 571.6 L558.8 570.0 L559.1 573.5 L559.5 574.0 L559.8 574.2 M560.1 577.7 L560.4 576.9 L560.8 579.7 L561.1 579.8 L561.4 582.8 L561.7 581.9 L562.0 583.6 L563.1 584.1 L564.1 580.7 L565.2 581.9 L566.2 579.3 L567.5 577.4 L568.8 579.9 L570.0 578.7 L570.8 578.9 L571.5 581.3 L572.2 580.5 L573.0 584.0 L573.8 584.1 L574.3 581.7 L574.8 583.1 L575.4 580.7 L575.9 581.8 L576.4 577.7 L577.0 578.9 L577.5 576.8 L578.5 576.1 L579.5 578.7 L580.5 577.2 L581.5 579.9 L582.5 578.8 L583.8 577.4 L585.0 579.8 L586.2 579.7 L587.5 581.1 L588.0 583.5 L588.6 582.1 L589.1 585.2 L589.6 584.9 L590.2 586.7 L590.7 585.7 L591.2 587.9 L591.9 587.9 L592.5 585.1 L593.2 586.7 L593.9 582.7 L594.5 582.4 L594.9 584.0 L595.2 582.8 L595.6 585.4 L595.9 585.1 L596.3 588.1 L596.6 587.2 L597.0 589.3 L597.3 588.8 L597.7 591.6 L598.0 590.4 L598.4 593.6 L598.8 594.2 L600.0 593.8 L601.2 596.5 L602.5 594.9 L603.8 596.7 L605.0 598.2 L606.2 596.2 L607.5 597.5 L608.1 597.2 L608.8 594.8 L609.4 595.4 L610.0 591.9 L610.6 592.6 L611.2 590.4 L612.0 590.4 L612.8 592.9 L613.5 592.5 L614.2 594.8 L615.0 595.1 L615.8 595.0 L616.7 597.9 L617.5 596.9 L618.3 599.7 L619.2 599.4 L620.0 600.6 L621.0 601.5 L622.0 600.7 L623.0 602.5 L624.0 601.5 L625.0 603.2 L625.2 602.8 M625.3 599.9 L625.5 601.0 M625.6 597.8 L625.8 599.0 M625.9 595.8 L626.1 596.5 M626.2 593.8 L626.4 594.0 M626.6 591.1 L626.7 592.2 M626.9 589.6 L627.0 590.5 M627.2 586.9 L627.3 588.0 M627.5 585.8 L628.5 586.0 L629.5 588.9 L630.5 588.0 L631.5 591.0 L632.5 591.3 L633.8 590.7 L635.0 593.3 L636.2 591.0 L637.5 592.1 L638.8 589.3 L640.0 590.0 L640.7 591.8 L641.4 590.8 L642.1 594.5 L642.9 594.7 L643.6 597.6 L644.3 597.4 L645.0 598.5 L646.0 600.1 L647.0 598.4 L648.0 602.0 L649.0 600.7 L650.0 601.1 L651.0 601.1 L652.0 598.7 L653.0 600.0 L654.0 597.7 L655.0 597.7 L655.6 597.5 L656.1 595.4 L656.7 596.4 L657.2 594.1 L657.8 595.4 L658.3 592.4 L658.9 593.3 L659.4 590.1 L660.0 589.6 L660.7 591.1 L661.4 590.3 L662.1 593.6 L662.9 592.0 L663.6 594.9 L664.3 593.4 L665.0 595.2 L666.2 595.8 L667.5 594.4 L668.8 597.3 L670.0 595.8 L671.2 598.7 L672.5 598.4 L673.8 597.7 L675.0 599.4 L676.2 596.9 L677.5 598.6 L678.8 596.3 L680.0 598.2 L680.7 600.4 L681.4 599.5 L682.1 602.0 L682.9 601.0 L683.6 603.5 L684.3 603.4 L685.0 605.2 L686.0 605.7 L687.1 603.0 L688.1 604.0 L689.2 602.2 L690.2 603.3 L691.2 601.3 L692.5 599.4 L693.8 602.1 L695.0 599.4 L696.2 600.4 L697.5 598.8 L698.3 599.1 L699.2 601.5 L700.0 601.7 L700.8 604.3 L701.7 604.0 L702.5 605.8 L703.3 607.7 L704.2 606.7 L705.0 608.3 L705.8 607.5 L706.7 609.2 L707.5 609.3 L708.4 609.0 L709.4 612.0 L710.3 611.5 L711.2 613.4 L711.8 613.2 L712.2 610.3 L712.8 610.7 L713.2 608.1 L713.8 607.3 L714.8 608.6 L715.8 607.3 L716.8 610.9 L717.8 610.6 L718.8 611.9 L719.8 611.6 L720.8 609.6 L721.8 610.0 L722.8 608.3 L723.8 608.6 L724.5 608.8 L725.2 605.6 L726.0 606.7 L726.8 603.9 L727.5 603.6 L728.8 605.4 L730.0 603.5 L731.2 605.3 L732.5 604.7 L733.8 603.5 L735.0 605.4 L736.2 603.9 L737.5 603.6 L738.0 603.1 L738.6 600.2 L739.1 601.7 L739.6 598.4 L740.2 599.7 L740.7 596.9 L741.2 597.1 L742.1 597.5 L742.9 594.1 L743.8 596.1 L744.6 593.4 L745.4 594.4 L746.2 591.5 L746.6 588.6 L747.0 589.1 L747.4 585.9 L747.8 587.4 L748.1 584.4 L748.5 585.8 L748.9 582.1 L749.2 583.8 L749.6 581.4 L750.0 581.1 L750.8 582.6 L751.5 581.4 L752.2 584.5 L753.0 583.2 L753.8 584.5 L753.9 584.3 M754.1 580.6 L754.2 581.6 M754.4 579.2 L754.5 580.2 M754.7 576.9 L754.8 577.7 M755.0 574.2 L755.2 575.7 M755.3 573.4 L755.5 574.6 M755.6 571.3 L755.8 571.9 M755.9 568.6 L756.1 570.1 M756.2 568.4 L756.7 566.2 L757.1 567.4 L757.5 564.3 L757.9 564.6 L758.3 561.3 L758.7 562.4 L759.1 558.8 L759.5 558.5 M759.7 560.7 L759.8 559.7 M760.6 566.4 L760.8 566.1 M760.9 568.7 L761.1 568.3 M761.6 573.8 L761.7 572.2 M761.9 575.1 L762.0 574.7 M762.2 577.3 L762.3 576.4 M762.5 579.0 L763.0 578.8 L763.4 576.1 L763.9 577.7 L764.4 574.8 L764.8 576.5 L765.3 573.5 L765.8 575.1 L766.2 572.8 L766.8 573.1 L767.3 576.1 L767.9 574.6 L768.4 577.2 L768.9 575.8 L769.5 578.8 L770.0 578.3 L770.3 576.1 L770.7 576.4 L771.0 573.8 L771.4 574.7 L771.7 571.8 L772.0 573.4 L772.4 571.0 L772.7 571.8 L773.1 568.9 L773.4 568.8 L773.8 566.4 L774.1 563.7 L774.4 564.3 M774.7 560.8 L775.0 561.1 L775.3 558.0 L775.6 559.8 M775.9 556.4 L776.2 558.1 M776.6 554.6 L776.9 555.7 L777.2 553.4 L777.5 553.2 L777.8 555.9 L778.0 554.1 M778.3 557.3 L778.6 556.2 M778.8 560.0 L779.1 558.5 M779.4 561.5 L779.6 560.6 L779.9 563.2 L780.2 562.7 M780.4 566.1 L780.7 565.1 M781.0 568.4 L781.2 568.5 L781.7 568.6 L782.2 572.2 L782.6 571.2 L783.1 574.7 L783.6 573.5 L784.0 576.7 L784.5 576.3 L784.9 574.3 L785.4 575.2 L785.8 571.8 L786.2 572.0 L786.6 569.0 L787.0 570.6 L787.5 566.5 L787.9 568.6 M788.3 564.3 L788.8 564.9 L789.5 564.2 L790.2 561.2 L791.0 561.4 L791.8 558.6 L792.5 559.6 L792.8 559.7 M793.1 556.3 L793.4 558.4 M793.8 553.7 L794.1 555.6 M794.4 551.1 L794.7 552.6 M795.0 549.3 L795.3 550.3 M795.6 546.5 L795.9 546.6 L796.2 545.0 L796.5 542.3 L796.8 544.0 M797.1 540.6 L797.4 541.7 L797.6 539.2 L797.9 540.7 M798.2 537.5 L798.5 538.3 L798.8 535.9 L799.0 535.2 M799.3 539.0 L799.6 537.6 M799.9 541.8 L800.2 539.9 M800.5 544.0 L800.8 543.3 M801.0 540.5 L801.2 541.4 M801.4 538.7 L801.6 539.6 M801.8 535.1 L802.0 536.6 M802.2 533.1 L802.4 534.0 M802.6 530.2 L802.8 532.0 M803.0 529.8 L803.2 529.8 M803.3 533.9 L803.5 532.8 M803.9 539.2 L804.1 537.7 M804.2 540.8 L804.4 540.4 M804.8 546.0 L805.0 546.2 L805.4 546.0 M805.8 549.8 L806.1 548.4 L806.5 551.4 L806.9 550.0 M807.2 554.1 L807.6 552.5 L808.0 554.8 L808.4 553.3 L808.8 555.8 L810.2 556.9 L811.8 556.5 M818.8 396.5 L818.9 397.2 M819.2 392.7 L819.3 392.7 M819.4 390.4 L819.5 391.1 M820.2 379.8 L820.3 380.6 M820.4 377.4 L820.5 377.6 M825.5 380.1 L825.6 379.7 M825.7 377.8 L825.7 377.3 M825.8 375.5 L825.9 375.2 M826.0 373.2 L826.0 372.9 M826.1 371.2 L826.2 370.6 M826.3 368.9 L826.3 368.3 M826.4 366.3 L826.5 366.3 M826.6 364.4 L826.6 364.1 M826.7 361.9 L826.8 361.6 M826.9 359.6 L826.9 359.4 M827.0 357.2 L827.1 357.1 M827.2 355.3 L827.2 354.9 M827.3 352.8 L827.4 353.0 M827.5 350.7 L827.5 350.4 M827.6 348.5 L827.7 348.4 M827.8 346.4 L827.8 346.3 M827.9 343.8 L828.0 343.3 M828.1 345.1 L828.2 344.8 M828.2 347.2 L828.3 346.9 M828.4 349.1 L828.5 349.4 M828.5 351.2 L828.6 351.7 M828.7 353.8 L828.8 353.9 M828.8 356.0 L828.9 356.0 M829.0 358.2 L829.1 357.9 M829.2 360.3 L829.2 360.1 M829.3 362.1 L829.4 362.6 M829.5 364.5 L829.5 364.7 M829.6 366.9 L829.7 366.7 M829.8 369.1 L829.8 368.8 M829.9 371.2 L830.0 371.7 M831.9 352.6 L832.0 353.9 M843.6 395.7 L843.8 396.2 L843.8 396.4 M844.1 390.6 L844.2 391.4 M844.6 383.9 L844.7 384.5 M845.0 379.6 L845.1 380.2 M845.1 377.3 L845.2 377.8 M845.3 375.1 L845.4 375.7 M845.5 373.8 L845.5 373.9 M858.0 310.0 L858.1 310.3 M858.2 313.4 L858.2 312.9 M858.3 315.5 L858.4 315.1 M858.5 317.6 L858.6 317.5 M858.6 320.0 L858.7 319.3 M858.8 322.2 L858.9 322.0 M859.0 324.4 L859.0 324.3 M859.1 326.4 L859.2 326.2 M859.3 328.3 L859.4 328.4 M859.5 331.1 L859.5 330.5 M859.6 332.9 L859.7 332.6 M859.8 335.2 L859.9 334.8 M859.9 337.4 L860.0 337.6 M860.1 340.0 L860.2 339.8 M860.3 341.8 L860.3 341.6 M860.4 344.0 L860.5 344.7 M863.0 329.5 L863.1 330.3 M863.2 332.7 L863.3 332.1 M864.5 347.7 L864.5 347.4 M865.0 353.5 L865.3 354.7 L865.6 352.3 M865.8 356.7 L866.1 354.8 M866.9 361.6 L867.2 360.0 M870.9 391.1 L871.1 392.6 M871.6 386.5 L871.8 387.7 M872.0 385.7 L873.0 385.8 L874.0 394.1 L875.0 390.6 M877.8 481.2 L878.1 484.2 M878.4 479.2 L878.8 481.8 M879.1 476.4 L879.4 478.7 M879.7 474.3 L880.0 475.3 L880.3 472.4 L880.6 473.2 M880.9 469.2 L881.2 469.9 L881.5 472.2 L881.8 470.1 M882.1 475.6 L882.4 473.2 M882.6 478.8 L882.9 476.7 M883.8 481.4 L884.2 483.6 L884.6 482.5 L885.0 486.5 L885.4 483.3 M885.8 488.4 L886.2 487.1 M886.5 484.5 L886.7 486.3 M886.9 482.4 L887.1 483.2 M888.5 473.7 L888.8 474.0 M889.1 477.7 L889.4 475.1 M889.7 481.1 L890.0 478.9 M890.3 483.3 L890.6 481.0 M890.9 485.0 L891.2 483.7 L892.2 480.9 L893.1 483.3 L894.1 479.0 L895.0 480.1 L895.6 479.8 L896.2 475.4 L896.9 477.9 L897.5 474.9 L898.1 476.1 L898.8 474.1 L899.4 472.1 L900.0 470.6 L900.2 470.4 M901.8 457.9 L902.0 459.9 M902.2 457.0 L902.4 459.1 M903.5 452.4 L903.8 453.6 L904.2 456.6 L904.7 454.3 L905.2 457.3 L905.6 454.7 L906.1 458.5 L906.6 456.0 M907.0 461.1 L907.5 459.2 L908.0 456.2 L908.5 458.7 L909.0 453.8 L909.5 457.7 L910.0 454.7 L910.4 454.5 M910.8 459.9 L911.1 456.5 M911.5 460.2 L911.9 458.1 M912.2 462.2 L912.6 459.5 M913.0 463.7 L913.4 460.6 M913.8 464.4 L914.5 468.2 L915.2 465.5 L916.0 469.4 L916.8 466.9 L917.5 469.3 L917.7 469.9 M918.0 464.5 L918.2 466.5 M918.9 460.9 L919.1 463.3 M919.4 458.3 L919.6 460.5 M919.8 456.3 L920.1 458.6 M921.0 454.6 L921.2 452.4 L922.5 452.0 L923.8 457.6 L925.0 456.8 L925.8 455.6 L926.5 460.9 L927.2 458.7 L928.0 463.4 L928.8 462.2 L929.1 461.6 M929.5 465.7 L929.8 463.9 L930.2 467.4 L930.6 466.3 M930.9 470.6 L931.3 467.4 M931.6 472.6 L932.0 471.3 L932.2 469.0 L932.5 469.8 M932.7 466.2 L932.9 468.0 M933.2 463.1 L933.4 465.2 M934.5 457.0 L934.8 458.6 M935.0 455.6 L935.4 453.4 L935.8 454.4 L936.2 450.9 L936.7 453.7 M937.1 449.3 L937.5 452.1 M937.9 447.4 L938.3 451.5 M938.8 446.5 L939.2 446.5 M939.6 441.1 L940.0 441.8 L940.4 441.6 M940.7 437.2 L941.1 438.6 M941.4 434.6 L941.8 437.2 L942.1 433.8 L942.5 434.6 L942.6 435.8 M945.1 418.3 L945.2 417.7 M947.1 437.0 L947.2 436.4 M947.5 440.4 L947.9 440.6 L948.2 437.2 L948.6 440.4 M949.6 436.3 L950.0 437.2 L950.1 437.8 M951.4 423.7 L951.6 425.1 M952.9 410.7 L953.0 411.6 M953.3 415.7 L953.4 414.9 M954.6 430.3 L954.7 429.7 M955.0 435.7 L955.1 434.8 M955.4 439.5 L955.5 440.1 M956.2 436.7 L956.4 438.5 M960.0 409.2 L960.1 408.9 M962.4 431.3 L962.5 430.9 L962.8 429.3 M963.1 433.9 L963.4 432.2 M963.8 437.4 L964.1 434.4 M964.4 439.0 L964.7 436.4 M965.0 441.5 L965.3 440.8 M965.6 444.1 L965.9 443.0 L966.2 445.6 L966.5 446.7 M966.7 441.6 L966.9 443.0 M967.1 438.0 L967.3 439.9 M967.5 436.8 L967.7 438.4 M967.9 434.0 L968.1 435.5 M968.3 431.2 L968.5 432.9 M970.1 418.9 L970.3 420.6 M971.6 411.4 L971.8 413.0 L972.0 411.2 L972.6 412.2 L973.2 415.6 L973.9 411.6 L974.5 414.3 L974.6 414.1 M974.7 412.0 L974.7 412.1 M974.8 409.3 L974.9 409.7 M975.0 407.4 L975.1 407.1 M975.1 404.9 L975.2 404.8 M975.3 402.8 L975.4 402.5 M975.5 400.6 L975.5 400.6 M975.6 398.2 L975.7 398.2 M975.8 396.0 L975.9 396.1 M976.0 393.7 L976.0 393.5 M976.1 391.4 L976.2 391.6 M976.3 389.5 L976.4 389.7 M976.4 387.0 L976.5 387.1 M976.6 385.2 L976.7 385.0 M976.8 382.8 L976.8 382.7 M976.9 380.8 L977.0 380.0 M979.5 314.5 L979.6 315.0 M979.6 312.4 L979.7 313.1 M980.2 305.5 L980.3 306.1 M980.5 301.2 L980.6 301.9 M981.2 292.6 L981.3 292.4 M983.8 347.5 L984.2 343.5 M984.7 349.6 L985.1 348.2 M985.6 353.8 L986.1 351.6 M986.5 357.5 L987.0 357.7 L987.3 357.3 M988.2 364.1 L988.5 362.2 M989.4 368.6 L989.7 365.7 L990.0 368.1 M992.5 305.0 L993.1 304.0 L993.8 298.6 L994.4 303.4 L995.0 300.2 L995.1 300.9 M1000.5 354.2 L1001.5 357.1 L1002.5 356.8 M1002.7 360.4 L1002.8 359.5 M1006.2 392.6 L1006.6 392.9 M1007.0 387.3 L1007.3 390.7 M1007.7 385.9 L1008.0 388.5 M1008.4 384.2 L1008.8 386.0 L1008.8 386.1 M1011.2 428.8 L1011.3 428.5 M1011.4 425.0 L1011.5 425.2 M1011.6 422.8 L1011.7 423.0 M1012.2 415.8 L1012.3 416.5 M1013.2 405.9 L1013.3 406.4 M1013.4 403.9 L1013.5 404.4 M1013.8 399.6 L1013.8 400.2 M1014.3 393.8 L1014.4 394.3 M1014.9 386.1 L1015.0 386.7 L1015.2 387.5 M1016.7 377.0 L1016.9 378.8 M1017.5 371.9 L1017.7 373.6 M1018.8 363.5 L1018.9 363.1 M1019.0 361.3 L1019.1 360.8 M1019.1 358.8 L1019.2 358.4 M1019.4 354.2 L1019.5 353.9 M1019.6 351.9 L1019.7 351.5 M1019.7 349.7 L1019.8 349.0 M1019.9 347.3 L1020.0 347.0 M1020.0 345.1 L1020.1 344.6 M1020.2 342.6 L1020.3 342.3 M1020.3 340.5 L1020.4 339.8 M1022.1 353.5 L1022.3 352.5 M1022.4 356.5 L1022.5 356.1 L1022.6 355.8 L1022.7 355.6 M1022.7 353.6 L1022.8 353.4 M1022.9 351.3 L1023.0 351.1 M1023.0 348.9 L1023.1 349.0 M1023.2 347.0 L1023.3 346.9 M1023.3 344.9 L1023.4 344.5 M1023.5 342.4 L1023.6 342.6 M1023.6 340.4 L1023.7 340.3 M1023.8 338.1 L1023.9 337.9 M1023.9 336.2 L1024.0 335.8 M1024.1 333.5 L1024.2 333.4 M1024.2 331.2 L1024.3 331.3 M1024.4 328.9 L1024.5 329.2 M1024.5 327.1 L1024.6 326.7 M1024.7 324.5 L1024.8 324.9 M1024.8 322.3 L1024.9 322.4 M1027.5 338.2 L1027.8 339.0 M1029.2 329.2 L1029.4 331.8 M1029.7 324.4 L1030.0 326.4 M1030.1 329.3 L1030.2 329.1 M1030.8 338.2 L1030.9 337.4 M1031.5 348.2 L1031.6 347.6 M1031.9 352.7 L1032.0 351.8 M1032.4 359.9 L1032.5 360.0 L1032.6 360.0 M1035.7 387.9 L1035.8 387.1 M1036.1 392.7 L1036.2 391.9 M1037.4 408.4 L1037.5 408.1 L1038.1 406.4 L1038.8 412.2 L1039.4 411.0 L1040.0 415.3 L1040.6 412.2 L1041.2 415.3 M1043.4 387.8 L1043.8 385.8 M1044.1 391.2 L1044.4 388.9 M1044.7 392.8 L1045.0 391.6 M1046.0 379.3 L1046.1 380.0 M1053.7 337.9 L1053.8 338.6 M1054.3 331.8 L1054.4 332.6 M1058.8 392.5 L1058.8 392.2 M1058.9 395.4 L1059.0 394.6 M1059.1 397.4 L1059.2 396.7 M1059.3 399.7 L1059.4 399.4 M1059.4 402.1 L1059.5 401.8 M1059.6 404.3 L1059.7 403.8 M1060.0 409.3 L1060.0 408.6 M1060.1 411.5 L1060.2 410.7 M1060.3 413.5 L1060.4 413.4 M1060.5 416.0 L1060.6 415.5 M1060.6 417.8 L1060.7 417.6 M1060.8 420.0 L1060.9 419.9 M1061.0 422.3 L1061.1 421.9 M1061.2 424.6 L1061.2 425.0 M1065.0 400.3 L1065.1 400.4 M1068.0 424.0 L1068.1 424.8 M1071.8 430.0 L1071.9 430.8 M1073.1 440.9 L1073.3 439.2 M1073.8 445.7 L1074.0 444.4 M1076.2 464.9 L1076.4 464.0 M1076.5 467.1 L1076.6 466.0 M1078.3 483.1 L1078.4 482.2 M1079.1 490.1 L1079.2 490.1 L1079.4 489.3 M1079.9 497.4 L1080.0 496.9 M1081.0 508.2 L1081.2 507.6 M1081.5 512.3 L1081.7 512.3 M1081.9 509.4 L1082.0 510.9 M1082.2 507.8 L1082.4 509.5 M1082.6 505.0 L1082.7 506.7 M1083.3 502.3 L1083.4 503.3 M1084.0 496.7 L1084.1 498.4 M1084.3 493.9 L1084.5 495.1 L1084.6 495.7 M1084.8 491.2 L1084.9 492.4 M1085.1 489.3 L1085.2 490.1 M1085.3 486.9 L1085.5 488.1 M1085.6 484.9 L1085.8 485.8 M1085.9 482.2 L1086.0 483.0 M1086.2 478.9 L1086.3 480.0 M1087.0 470.5 L1087.2 471.0 M1087.7 462.0 L1087.8 462.7 M1087.8 460.2 L1088.0 461.1 M1089.8 481.1 L1089.9 480.4 M1090.5 476.9 L1090.7 477.9 M1090.9 474.5 L1091.0 475.8 M1094.2 471.4 L1094.3 472.4 M1094.7 466.0 L1094.8 467.2 M1095.8 459.2 L1095.9 457.5 L1096.1 458.3 M1096.7 453.3 L1096.9 454.7 M1097.1 451.8 L1097.3 453.0 M1097.5 448.5 L1097.7 449.5 M1098.1 454.0 L1098.3 452.6 M1099.5 463.2 L1099.8 465.2 L1100.1 463.6 L1100.5 466.6 L1100.8 464.5 M1101.1 469.0 L1101.4 466.6 L1101.8 468.8 M1102.0 471.4 L1102.2 471.0 M1102.5 475.0 L1102.8 472.7 M1103.0 477.1 L1103.2 476.5 M1103.5 481.1 L1103.8 478.7 M1104.0 482.0 L1104.2 483.8 M1106.5 492.5 L1106.8 491.9 L1107.0 494.1 M1107.1 496.6 L1107.2 496.6 M1107.5 501.5 L1107.6 501.0 M1107.7 503.8 L1107.8 503.2 M1107.9 506.3 L1107.9 505.5 M1108.4 512.6 L1108.5 512.4 M1108.6 515.5 L1108.7 514.8 M126.3 608.2 L126.7 604.7 M127.0 605.9 L127.3 602.5 M127.7 603.3 L128.0 599.9 M128.3 601.0 L128.7 597.0 M142.2 610.5 L142.6 606.7 M147.2 604.6 L147.4 607.6 M190.1 564.3 L190.2 561.1 L190.4 563.0 L190.5 559.3 M190.6 560.0 L190.8 556.4 M190.9 557.5 L191.0 554.4 M191.1 555.3 L191.2 552.3 L191.4 553.6 L191.5 550.3 M191.6 551.2 L191.8 547.5 M191.9 548.6 L192.0 545.7 L192.1 547.5 L192.2 543.9 M192.4 544.7 L192.5 542.8 L192.6 540.8 M192.7 540.8 L192.8 539.0 M192.8 538.7 L192.9 536.5 M193.0 536.4 L193.1 534.5 M193.2 534.3 L193.3 532.0 M193.4 532.2 L193.4 529.8 M193.5 529.8 L193.6 527.9 M193.7 527.9 L193.8 525.3 M193.9 525.5 L194.0 523.5 M194.1 523.1 L194.1 521.1 M194.2 520.9 L194.3 518.7 M194.4 519.1 L194.5 516.9 M194.6 516.6 L194.7 514.2 M194.7 514.6 L194.8 512.0 M207.5 439.7 L207.8 444.2 M208.0 441.8 L208.2 446.2 M208.5 444.1 L208.8 449.9 L209.0 446.6 L209.2 452.8 L209.5 449.3 L209.8 454.9 M210.2 455.0 L210.4 459.3 L210.6 457.4 L210.8 461.1 L210.9 459.2 L211.1 464.2 M211.3 462.3 L211.5 467.5 L211.7 464.3 L211.9 468.3 M212.1 466.5 L212.2 470.8 L212.4 467.7 L212.6 472.2 L212.8 469.5 L213.0 471.7 M213.1 471.4 L213.2 467.8 L213.3 469.8 L213.4 465.8 L213.6 467.2 L213.7 462.0 L213.8 464.7 L213.9 459.6 L214.0 461.2 L214.1 457.9 L214.2 460.5 L214.3 456.8 M214.4 457.7 L214.5 454.5 L214.7 456.1 L214.8 452.3 L214.9 454.1 L215.0 449.8 L215.1 451.4 L215.2 449.0 M215.3 449.7 L215.4 447.0 M215.5 447.7 L215.6 443.6 L215.8 447.0 L215.9 443.1 L216.0 444.5 L216.1 440.8 L216.2 442.3 L216.3 438.8 L216.4 440.8 L216.5 436.3 L216.6 438.2 L216.8 435.9 M217.2 435.6 L217.4 432.1 M217.6 434.2 L217.9 429.1 L218.1 432.0 L218.3 428.4 M218.5 429.7 L218.7 425.8 L219.0 428.4 L219.2 422.9 L219.4 425.9 L219.6 420.8 L219.8 424.3 L220.1 419.4 L220.3 421.7 L220.5 419.0 M220.8 418.3 L221.2 423.2 M221.5 420.1 L221.8 424.9 M222.2 421.7 L222.5 425.7 M222.8 423.2 L223.2 428.2 M223.6 427.0 L223.7 428.9 M223.7 429.0 L223.8 431.3 M223.9 430.9 L224.0 433.2 M224.1 433.1 L224.1 435.6 M224.2 435.6 L224.3 437.6 M224.4 437.8 L224.4 439.9 M224.5 439.7 L224.6 442.1 M224.7 441.8 L224.8 444.2 M224.8 444.0 L224.9 446.3 M225.0 446.8 L225.2 444.2 M225.4 445.8 L225.6 441.9 M225.8 442.7 L225.9 438.2 L226.1 440.2 L226.3 437.2 M226.5 438.1 L226.7 433.4 L226.9 435.9 L227.1 432.8 M227.2 432.5 L227.4 435.8 L227.5 434.2 L227.6 438.1 L227.7 435.7 L227.8 440.4 L227.9 437.7 L228.0 442.5 L228.1 440.4 L228.2 444.1 L228.3 442.9 L228.5 447.3 L228.6 445.5 L228.7 449.1 L228.8 447.9 L228.9 452.7 M229.1 452.7 L229.2 455.1 M229.3 454.5 L229.4 458.0 M229.5 457.1 L229.6 459.6 M229.7 459.5 L229.8 462.4 L229.8 461.3 L229.9 464.5 M230.0 464.0 L230.1 466.6 M230.2 466.1 L230.3 468.8 M230.4 468.5 L230.5 470.0 L230.6 472.6 L230.8 469.5 L230.9 474.4 L231.0 471.9 L231.1 475.9 L231.2 473.9 L231.4 478.8 L231.5 475.9 L231.6 480.4 L231.8 478.2 L231.9 482.5 L232.0 479.5 L232.1 483.6 M232.2 482.8 L232.4 486.7 M232.7 484.7 L232.9 489.6 L233.0 487.7 L233.2 492.0 M233.4 490.3 L233.6 493.5 M233.8 492.4 L234.0 496.1 M234.1 494.4 L234.3 497.7 M234.7 497.3 L234.9 502.6 L235.0 500.7 L235.2 505.0 M235.4 503.4 L235.6 508.0 L235.8 505.9 L236.0 509.9 M236.1 509.3 L236.3 512.3 M236.6 513.1 L236.8 517.0 M236.9 516.3 L237.0 519.5 M237.2 518.3 L237.3 522.3 L237.5 520.8 L237.6 524.8 L237.7 522.6 L237.9 526.5 M241.8 530.4 L242.0 534.5 M242.2 533.0 L242.5 537.7 M242.8 535.8 L243.0 539.1 M243.2 538.5 L243.5 542.1 M243.8 540.3 L244.0 544.7 L244.2 542.2 L244.5 545.8 M246.1 545.0 L246.4 541.0 M247.5 540.6 L247.7 543.6 M247.9 542.2 L248.1 545.7 M248.3 544.4 L248.5 547.8 M248.7 547.4 L248.8 550.7 M249.0 549.1 L249.2 552.0 M249.4 550.7 L249.6 554.3 M250.5 555.4 L250.8 558.7 M251.1 558.0 L251.3 561.3 M251.6 559.6 L251.9 563.5 M252.1 562.6 L252.4 565.7 M252.7 565.4 L252.9 568.8 M253.2 568.0 L253.5 571.2 M262.5 561.3 L262.8 563.8 M263.0 562.5 L263.2 565.8 M263.5 563.7 L263.8 567.8 M264.0 566.4 L264.2 569.2 M264.5 568.5 L264.8 571.7 M265.0 570.6 L265.2 574.3 M265.5 573.0 L265.8 576.1 M266.5 577.9 L266.8 575.0 M267.1 576.0 L267.3 572.1 M267.6 572.8 L267.9 569.4 M268.1 570.5 L268.4 567.7 M268.7 568.8 L268.9 565.0 M269.2 566.4 L269.5 563.0 M274.4 556.5 L274.7 560.0 M275.6 560.4 L275.9 563.6 M276.2 563.3 L276.6 566.7 M276.9 565.9 L277.2 569.7 M282.5 581.9 L282.7 579.4 M282.9 580.9 L283.1 577.7 M283.3 578.0 L283.5 575.2 M283.7 576.3 L283.9 572.4 M284.1 574.0 L284.3 570.3 M284.5 571.0 L284.7 568.2 M284.9 568.8 L285.1 565.8 M285.3 567.0 L285.5 564.0 M285.7 564.6 L285.9 561.2 M286.2 560.7 L286.4 558.1 L286.6 560.2 L286.8 555.8 M287.0 557.5 L287.2 554.2 M287.4 555.7 L287.6 551.9 L287.8 554.0 L288.0 549.6 M288.2 550.9 L288.4 547.1 M288.6 548.9 L288.8 546.5 M289.0 546.3 L289.3 550.3 M289.6 549.4 L289.9 552.5 M290.1 550.3 L290.4 553.5 M290.7 551.8 L291.0 554.9 M295.9 554.7 L296.2 558.0 M296.6 556.6 L296.9 560.7 M297.2 558.7 L297.5 562.3 M297.8 561.4 L298.1 565.5 M304.8 568.0 L305.1 571.9 M305.5 570.4 L305.9 574.5 M310.3 571.6 L310.5 575.4 M310.8 573.4 L311.1 576.8 M311.3 575.5 L311.6 578.8 M312.9 582.3 L313.2 585.4 M355.2 582.1 L355.4 579.1 M355.7 580.8 L355.9 576.9 M356.5 575.3 L356.8 572.8 M357.0 572.8 L357.2 570.5 M357.4 571.2 L357.6 567.1 M357.9 568.3 L358.1 564.6 M358.3 566.2 L358.5 562.4 M359.1 563.4 L359.4 559.1 M360.3 559.3 L360.6 555.4 M361.6 555.7 L361.9 552.2 M362.5 550.6 L362.7 548.5 M362.8 549.8 L363.0 545.4 M363.1 546.9 L363.3 543.4 L363.5 545.4 L363.6 541.0 L363.8 542.8 L364.0 538.5 L364.1 540.3 L364.3 536.9 M364.4 537.8 L364.6 534.0 L364.8 535.8 L364.9 532.4 M365.1 533.0 L365.3 529.4 L365.4 531.3 L365.6 527.1 M365.8 527.6 L365.9 529.9 M366.0 528.6 L366.2 531.9 M366.3 530.6 L366.5 534.0 M366.6 533.3 L366.8 537.3 L366.9 535.3 L367.0 538.7 M367.2 538.3 L367.3 542.0 L367.5 540.0 L367.6 544.4 L367.8 542.0 L367.9 546.1 L368.1 544.3 L368.2 548.8 M368.3 547.4 L368.5 550.6 M368.6 550.1 L368.8 552.9 L368.9 551.3 L369.1 554.9 M369.2 554.1 L369.4 557.2 M369.9 556.9 L370.0 553.7 M370.2 554.1 L370.4 551.6 M370.6 552.6 L370.8 548.8 M370.9 549.5 L371.1 547.0 M371.3 548.5 L371.5 544.7 M371.6 545.8 L371.8 542.2 M372.0 543.8 L372.2 539.7 L372.4 541.6 L372.5 537.5 M372.7 538.3 L372.9 535.3 M373.1 535.4 L373.2 533.3 M381.4 545.4 L381.5 549.3 L381.7 547.5 L381.8 551.8 L381.9 550.2 L382.1 553.5 L382.2 552.1 L382.4 554.9 M391.4 558.7 L391.6 555.7 M391.8 556.5 L392.0 553.4 M392.1 553.9 L392.3 549.8 M392.5 551.0 L392.7 547.1 M392.9 548.5 L393.0 544.9 M393.2 545.4 L393.4 541.3 L393.6 543.1 L393.8 540.9 M394.8 537.8 L395.1 534.2 M395.4 536.7 L395.6 532.3 M395.9 534.9 L396.2 530.3 M396.4 532.4 L396.7 528.0 M397.0 529.3 L397.2 524.9 M397.9 526.4 L398.2 521.8 M398.6 524.5 L398.9 520.9 M399.3 523.3 L399.6 519.5 M400.2 522.1 L400.4 517.9 L400.5 519.8 L400.7 515.7 M400.9 516.1 L401.1 512.5 M401.3 514.0 L401.4 510.3 L401.6 512.2 L401.8 508.6 M402.0 509.9 L402.2 505.9 M402.3 507.1 L402.5 503.4 L402.7 505.4 L402.9 500.8 L403.1 502.8 L403.2 500.8 M403.4 501.2 L403.6 504.4 M403.9 503.2 L404.1 506.6 M404.2 506.1 L404.4 510.1 L404.6 507.8 L404.9 512.8 L405.1 509.5 L405.2 514.5 L405.4 512.3 L405.6 515.3 M405.9 514.3 L406.1 517.7 M410.0 517.5 L410.4 513.2 M411.6 513.2 L411.9 516.4 M412.2 514.8 L412.5 518.4 M412.8 518.1 L413.1 521.5 M413.4 519.8 L413.8 523.2 M417.5 523.5 L417.7 526.4 L417.9 523.7 L418.1 527.5 M418.2 527.1 L418.4 529.7 M418.6 529.0 L418.8 532.6 M419.0 532.1 L419.2 535.5 M419.4 534.7 L419.6 537.7 M419.8 537.1 L419.9 541.0 M420.1 539.5 L420.3 542.8 M420.5 542.6 L420.7 545.6 M420.9 544.4 L421.1 548.3 M425.0 548.5 L425.1 547.1 M425.2 546.8 L425.3 544.5 M425.4 545.0 L425.4 542.5 M425.5 542.8 L425.6 540.2 M425.7 540.3 L425.8 538.3 M425.9 537.9 L426.0 535.8 M426.1 536.3 L426.2 533.4 M426.2 533.8 L426.3 531.3 M426.4 532.0 L426.5 529.0 M426.6 529.5 L426.7 527.1 M426.8 527.3 L426.9 525.1 M427.0 524.9 L427.1 522.5 M427.1 523.3 L427.2 520.5 M427.3 520.7 L427.4 518.4 M427.6 518.5 L427.8 514.4 L427.9 516.3 L428.0 511.7 L428.2 513.4 L428.3 510.2 M428.4 511.5 L428.6 507.6 L428.7 509.6 L428.8 504.5 L429.0 507.3 L429.1 502.3 M429.2 503.4 L429.4 499.9 L429.5 501.8 L429.6 497.5 M429.8 498.9 L429.9 494.7 L430.0 497.4 L430.2 493.3 L430.3 494.8 L430.4 490.7 L430.6 492.4 L430.7 487.7 L430.8 491.0 L431.0 485.9 L431.1 487.6 L431.2 485.5 L431.3 486.7 L431.4 488.5 M431.5 489.1 L431.6 491.0 M431.6 491.4 L431.7 493.0 M431.8 493.4 L431.9 495.4 M431.9 495.8 L432.0 497.4 M432.1 498.0 L432.2 499.5 M432.2 500.2 L432.3 502.0 M432.4 502.5 L432.5 504.0 M432.5 504.6 L432.6 506.1 M432.7 506.7 L432.8 508.5 M432.8 508.8 L432.9 510.7 M433.0 511.0 L433.1 512.7 M433.1 513.4 L433.2 515.2 M433.3 515.7 L433.4 517.1 M433.4 517.7 L433.5 519.3 M433.6 519.9 L433.7 521.4 L433.8 522.4 M434.0 522.0 L434.3 526.0 M434.6 524.2 L434.8 528.0 M435.1 526.3 L435.4 530.2 M435.6 527.7 L435.9 531.9 M436.7 531.9 L437.0 535.5 M437.7 537.8 L437.8 533.3 M438.0 534.7 L438.1 531.2 L438.3 533.4 L438.4 530.0 M438.6 530.8 L438.8 527.9 L438.9 530.1 L439.1 526.1 M439.2 526.9 L439.4 524.2 M439.5 524.5 L439.7 521.4 L439.8 523.2 L440.0 520.0 M445.0 515.2 L445.1 511.9 L445.3 513.8 L445.4 510.5 L445.6 512.5 L445.7 507.9 L445.9 509.8 L446.0 505.7 M446.2 506.4 L446.3 503.5 L446.5 505.6 L446.6 500.9 L446.8 503.4 L446.9 499.5 L447.1 501.5 L447.2 497.6 L447.4 499.6 L447.5 497.1 M449.0 495.7 L449.4 490.1 M449.8 491.8 L450.1 487.1 M450.5 488.0 L450.6 491.1 L450.8 489.1 L450.9 492.6 M451.1 491.8 L451.2 494.9 L451.4 493.3 L451.5 498.2 L451.6 496.2 L451.8 500.4 M451.9 500.3 L452.1 504.3 L452.2 501.8 L452.4 507.2 M456.6 503.4 L457.0 507.3 M457.3 506.2 L457.7 510.3 M461.2 511.6 L461.6 507.0 M462.1 510.4 L462.5 505.3 M462.9 508.0 L463.3 503.8 M467.5 509.9 L467.7 512.5 M467.9 510.8 L468.0 514.9 L468.2 512.4 L468.4 516.0 L468.6 514.2 L468.8 518.5 L468.9 515.5 L469.1 519.9 M469.3 518.4 L469.5 522.4 M469.6 521.3 L469.8 524.5 M473.3 523.9 L473.5 519.9 L473.7 522.2 L473.8 517.9 M474.0 518.8 L474.2 515.2 L474.3 517.3 L474.5 512.8 L474.7 514.8 L474.8 509.9 M475.5 511.1 L475.7 514.5 M475.9 512.9 L476.2 516.3 M476.4 514.9 L476.6 519.8 M476.9 517.7 L477.1 521.4 M477.3 520.9 L477.6 524.4 M477.8 523.0 L478.0 526.7 M478.3 526.5 L478.5 529.4 M479.6 530.6 L479.8 534.7 M480.1 532.4 L480.4 536.3 M480.6 533.9 L480.9 538.4 M481.2 536.0 L481.4 540.2 M481.7 538.6 L482.0 542.0 M482.2 540.7 L482.5 543.6 M493.8 555.3 L493.9 552.9 M494.1 553.9 L494.3 550.2 M494.5 551.7 L494.7 548.0 M494.8 548.7 L495.0 545.0 L495.2 547.1 L495.4 543.8 M495.6 544.5 L495.7 540.6 L495.9 542.9 L496.1 539.2 M496.3 539.3 L496.5 536.3 M496.6 537.5 L496.8 533.4 M497.2 534.5 L497.4 530.5 M497.5 531.6 L497.7 527.7 L497.9 529.8 L498.1 525.8 M498.2 526.7 L498.4 523.5 M498.6 524.6 L498.8 521.2 M499.0 522.6 L499.1 518.0 M499.3 519.8 L499.5 517.2 M499.7 517.6 L499.9 520.6 M500.0 519.5 L500.2 523.9 L500.4 521.9 L500.6 525.5 L500.8 523.7 L500.9 528.4 M501.1 526.7 L501.3 530.2 M501.5 529.6 L501.6 533.8 M501.8 532.5 L502.0 534.7 M505.2 541.5 L505.5 545.8 M505.7 544.4 L505.9 546.9 M506.2 546.0 L506.4 549.0 M506.6 548.0 L506.9 551.4 M507.1 549.8 L507.3 553.1 L507.6 550.6 L507.8 553.9 M508.0 552.4 L508.3 556.0 M514.6 557.0 L515.0 552.7 M517.8 547.1 L518.0 550.4 M518.9 551.1 L519.1 554.0 M519.4 552.7 L519.7 555.8 M520.0 554.7 L520.2 558.1 M520.7 558.4 L520.9 562.2 M521.1 561.4 L521.3 564.7 M521.5 563.5 L521.7 566.8 M521.9 565.6 L522.1 569.2 M522.3 568.2 L522.5 571.1 M522.7 570.4 L522.9 574.6 M523.1 573.3 L523.3 576.8 M523.5 576.1 L523.8 578.1 M526.2 584.5 L526.4 582.5 L526.5 583.9 L526.6 580.1 M526.8 580.7 L526.9 577.7 M527.0 578.7 L527.1 575.5 L527.2 576.9 L527.4 574.0 M527.5 574.6 L527.6 571.0 L527.8 572.4 L527.9 569.1 L528.0 570.7 L528.1 567.1 M528.2 568.1 L528.4 564.7 L528.5 566.4 L528.6 563.0 M528.8 563.3 L528.9 560.2 L529.0 561.8 L529.1 558.4 L529.2 559.8 L529.4 555.3 M533.1 561.9 L533.4 565.1 M533.8 563.4 L534.1 566.7 M534.4 565.5 L534.7 568.7 M535.0 568.4 L535.2 566.3 M535.4 567.3 L535.6 563.5 M535.8 564.4 L535.9 561.6 M536.1 562.4 L536.3 559.2 M536.5 560.5 L536.7 557.2 M536.9 557.9 L537.1 555.0 M537.2 555.8 L537.4 552.4 M537.6 553.3 L537.8 550.9 M538.5 552.4 L538.8 555.8 M539.1 555.3 L539.4 558.1 M539.6 557.7 L539.9 561.9 M540.2 560.1 L540.4 564.2 M543.0 567.8 L543.4 571.6 M544.4 570.3 L544.7 566.7 M546.4 563.4 L546.7 559.7 M547.4 560.7 L547.7 557.0 M548.8 557.7 L549.1 554.1 M550.2 556.0 L550.6 559.8 M559.8 574.2 L560.1 577.7 M625.2 602.8 L625.3 599.9 M625.5 601.0 L625.6 597.8 M625.8 599.0 L625.9 595.8 M626.1 596.5 L626.2 593.8 M626.4 594.0 L626.6 591.1 M626.7 592.2 L626.9 589.6 M627.0 590.5 L627.2 586.9 M627.3 588.0 L627.5 585.8 M753.9 584.3 L754.1 580.6 M754.2 581.6 L754.4 579.2 M754.5 580.2 L754.7 576.9 M754.8 577.7 L755.0 574.2 M755.2 575.7 L755.3 573.4 M755.5 574.6 L755.6 571.3 M755.8 571.9 L755.9 568.6 M756.1 570.1 L756.2 568.4 M759.5 558.5 L759.7 560.7 M759.8 559.7 L760.0 563.2 L760.1 561.0 L760.3 565.2 L760.4 563.3 L760.6 566.4 M760.8 566.1 L760.9 568.7 M761.1 568.3 L761.2 571.7 L761.4 569.6 L761.6 573.8 M761.7 572.2 L761.9 575.1 M762.0 574.7 L762.2 577.3 M762.3 576.4 L762.5 579.0 M774.4 564.3 L774.7 560.8 M775.6 559.8 L775.9 556.4 M776.2 558.1 L776.6 554.6 M778.0 554.1 L778.3 557.3 M778.6 556.2 L778.8 560.0 M779.1 558.5 L779.4 561.5 M780.2 562.7 L780.4 566.1 M780.7 565.1 L781.0 568.4 M787.9 568.6 L788.3 564.3 M792.8 559.7 L793.1 556.3 M793.4 558.4 L793.8 553.7 M794.1 555.6 L794.4 551.1 M794.7 552.6 L795.0 549.3 M795.3 550.3 L795.6 546.5 M796.8 544.0 L797.1 540.6 M797.9 540.7 L798.2 537.5 M799.0 535.2 L799.3 539.0 M799.6 537.6 L799.9 541.8 M800.2 539.9 L800.5 544.0 M800.8 543.3 L801.0 540.5 M801.2 541.4 L801.4 538.7 M801.6 539.6 L801.8 535.1 M802.0 536.6 L802.2 533.1 M802.4 534.0 L802.6 530.2 M802.8 532.0 L803.0 529.8 M803.2 529.8 L803.3 533.9 M803.5 532.8 L803.6 536.5 L803.8 534.5 L803.9 539.2 M804.1 537.7 L804.2 540.8 M804.4 540.4 L804.5 544.2 L804.7 542.6 L804.8 546.0 M805.4 546.0 L805.8 549.8 M806.9 550.0 L807.2 554.1 M818.9 397.2 L819.0 394.0 L819.1 395.2 L819.2 392.7 M819.3 392.7 L819.4 390.4 M819.5 391.1 L819.5 388.3 L819.6 389.4 L819.7 385.9 L819.8 386.8 L819.9 383.8 L820.0 384.9 L820.1 381.8 L820.1 382.7 L820.2 379.8 M820.3 380.6 L820.4 377.4 M820.5 377.6 L820.6 378.6 L820.6 379.7 L820.7 380.8 L820.8 382.0 L820.8 383.1 L820.9 384.2 L821.0 385.3 L821.0 386.4 L821.1 387.5 L821.2 388.6 L821.2 389.8 L821.3 390.9 L821.4 392.0 L821.4 393.1 L821.5 394.2 L821.6 395.3 L821.6 396.5 L821.7 397.6 L821.8 398.7 L821.9 399.8 L821.9 400.9 L822.0 402.0 L822.1 403.1 L822.1 404.3 L822.2 405.4 L822.3 406.5 L822.3 407.6 L822.4 408.7 L822.5 409.8 L822.5 410.9 L822.6 412.1 L822.7 413.2 L822.7 414.3 L822.8 415.4 L822.9 416.5 L822.9 417.6 L823.0 418.8 L823.1 417.7 L823.1 416.3 L823.2 415.5 L823.3 414.1 L823.4 413.2 L823.4 411.9 L823.5 411.1 L823.6 409.7 L823.6 408.8 L823.7 407.5 L823.8 406.6 L823.9 405.3 L823.9 404.5 L824.0 403.2 L824.1 402.2 L824.1 400.9 L824.2 400.1 L824.3 398.7 L824.4 397.9 L824.4 396.5 L824.5 395.7 L824.6 394.2 L824.6 393.5 L824.7 392.2 L824.8 391.3 L824.9 389.9 L824.9 389.0 L825.0 387.6 L825.1 386.8 L825.1 385.5 L825.2 384.7 L825.3 383.2 L825.4 382.5 L825.4 381.0 L825.5 380.1 M825.6 379.7 L825.7 377.8 M825.7 377.3 L825.8 375.5 M825.9 375.2 L826.0 373.2 M826.0 372.9 L826.1 371.2 M826.2 370.6 L826.3 368.9 M826.3 368.3 L826.4 366.3 M826.5 366.3 L826.6 364.4 M826.6 364.1 L826.7 361.9 M826.8 361.6 L826.9 359.6 M826.9 359.4 L827.0 357.2 M827.1 357.1 L827.2 355.3 M827.2 354.9 L827.3 352.8 M827.4 353.0 L827.5 350.7 M827.5 350.4 L827.6 348.5 M827.7 348.4 L827.8 346.4 M827.8 346.3 L827.9 343.8 M828.0 343.3 L828.1 345.1 M828.2 344.8 L828.2 347.2 M828.3 346.9 L828.4 349.1 M828.5 349.4 L828.5 351.2 M828.6 351.7 L828.7 353.8 M828.8 353.9 L828.8 356.0 M828.9 356.0 L829.0 358.2 M829.1 357.9 L829.2 360.3 M829.2 360.1 L829.3 362.1 M829.4 362.6 L829.5 364.5 M829.5 364.7 L829.6 366.9 M829.7 366.7 L829.8 369.1 M829.8 368.8 L829.9 371.2 M830.0 371.7 L830.1 366.2 L830.2 369.0 L830.4 363.1 L830.5 367.8 L830.6 362.1 L830.8 364.9 L830.9 359.7 L831.0 362.7 L831.1 357.2 L831.2 360.4 L831.4 355.9 L831.5 359.7 L831.6 355.1 L831.8 358.1 L831.9 352.6 M843.8 396.4 L843.9 393.3 L844.0 394.3 L844.1 390.6 M844.2 391.4 L844.3 388.7 L844.4 389.9 L844.5 386.4 L844.5 387.3 L844.6 383.9 M844.7 384.5 L844.8 381.7 L844.9 382.8 L845.0 379.6 M845.1 380.2 L845.1 377.3 M845.2 377.8 L845.3 375.1 M845.4 375.7 L845.5 373.8 M858.1 310.3 L858.2 313.4 M858.2 312.9 L858.3 315.5 M858.4 315.1 L858.5 317.6 M858.6 317.5 L858.6 320.0 M858.7 319.3 L858.8 322.2 M858.9 322.0 L859.0 324.4 M859.0 324.3 L859.1 326.4 M859.2 326.2 L859.3 328.3 M859.4 328.4 L859.5 331.1 M859.5 330.5 L859.6 332.9 M859.7 332.6 L859.8 335.2 M859.9 334.8 L859.9 337.4 M860.0 337.6 L860.1 340.0 M860.2 339.8 L860.3 341.8 M860.3 341.6 L860.4 344.0 M860.5 344.7 L860.7 340.6 L860.9 345.1 L861.1 338.4 L861.3 341.8 L861.5 335.9 L861.7 340.9 L861.8 334.2 L862.0 338.3 L862.2 332.8 L862.4 335.7 L862.6 328.8 L862.8 334.4 L863.0 329.5 M863.1 330.3 L863.2 332.7 M863.3 332.1 L863.4 335.5 L863.5 334.3 L863.5 336.9 L863.6 335.7 L863.7 339.0 L863.8 337.6 L863.9 341.5 L864.0 339.9 L864.1 344.1 L864.2 342.9 L864.3 346.2 L864.4 344.8 L864.5 347.7 M864.5 347.4 L864.6 350.4 L864.7 348.9 L864.8 352.1 L864.9 350.8 L865.0 353.5 M865.6 352.3 L865.8 356.7 M866.1 354.8 L866.4 361.0 L866.7 356.9 L866.9 361.6 M871.1 392.6 L871.3 388.9 L871.5 391.2 L871.6 386.5 M871.8 387.7 L872.0 385.7 M878.1 484.2 L878.4 479.2 M878.8 481.8 L879.1 476.4 M879.4 478.7 L879.7 474.3 M880.6 473.2 L880.9 469.2 M881.8 470.1 L882.1 475.6 M882.4 473.2 L882.6 478.8 M882.9 476.7 L883.2 481.4 L883.5 477.9 L883.8 481.4 M885.4 483.3 L885.8 488.4 M886.2 487.1 L886.5 484.5 M886.7 486.3 L886.9 482.4 M887.1 483.2 L887.3 479.4 L887.5 481.5 L887.7 477.4 L887.9 479.6 L888.1 475.7 L888.3 478.0 L888.5 473.7 M888.8 474.0 L889.1 477.7 M889.4 475.1 L889.7 481.1 M890.0 478.9 L890.3 483.3 M890.6 481.0 L890.9 485.0 M900.2 470.4 L900.4 465.6 L900.7 468.7 L900.9 462.8 L901.1 465.5 L901.3 459.5 L901.5 462.3 L901.8 457.9 M902.0 459.9 L902.2 457.0 M902.4 459.1 L902.6 455.6 L902.9 458.2 L903.1 454.1 L903.3 456.7 L903.5 452.4 M906.6 456.0 L907.0 461.1 M910.4 454.5 L910.8 459.9 M911.1 456.5 L911.5 460.2 M911.9 458.1 L912.2 462.2 M912.6 459.5 L913.0 463.7 M913.4 460.6 L913.8 464.4 M917.7 469.9 L918.0 464.5 M918.2 466.5 L918.4 463.6 L918.7 466.0 L918.9 460.9 M919.1 463.3 L919.4 458.3 M919.6 460.5 L919.8 456.3 M920.1 458.6 L920.3 453.4 L920.5 456.8 L920.8 451.9 L921.0 454.6 M929.1 461.6 L929.5 465.7 M930.6 466.3 L930.9 470.6 M931.3 467.4 L931.6 472.6 M932.5 469.8 L932.7 466.2 M932.9 468.0 L933.2 463.1 M933.4 465.2 L933.6 460.6 L933.8 463.2 L934.1 459.0 L934.3 461.3 L934.5 457.0 M934.8 458.6 L935.0 455.6 M936.7 453.7 L937.1 449.3 M937.5 452.1 L937.9 447.4 M938.3 451.5 L938.8 446.5 M939.2 446.5 L939.6 441.1 M940.4 441.6 L940.7 437.2 M941.1 438.6 L941.4 434.6 M942.6 435.8 L942.8 431.2 L942.9 433.9 L943.1 428.0 L943.2 432.0 L943.4 426.4 L943.5 429.5 L943.7 424.9 L943.8 427.4 L944.0 422.0 L944.1 425.1 L944.3 420.1 L944.4 423.3 L944.6 418.5 L944.7 421.0 L944.9 414.7 L945.0 416.5 L945.1 418.3 M945.2 417.7 L945.3 422.1 L945.4 420.1 L945.5 423.9 L945.7 421.3 L945.8 424.7 L945.9 423.3 L946.0 426.7 L946.1 425.0 L946.2 429.2 L946.3 427.0 L946.4 432.1 L946.5 430.2 L946.6 433.4 L946.7 432.3 L946.8 436.0 L947.0 434.4 L947.1 437.0 M947.2 436.4 L947.3 440.2 L947.4 438.3 L947.5 440.4 M948.6 440.4 L948.9 436.7 L949.3 440.6 L949.6 436.3 M950.1 437.8 L950.3 432.3 L950.4 434.9 L950.6 431.2 L950.7 433.7 L950.9 428.6 L951.0 431.4 L951.1 425.1 L951.3 428.0 L951.4 423.7 M951.6 425.1 L951.7 420.2 L951.9 423.4 L952.0 418.9 L952.1 420.4 L952.3 416.6 L952.4 419.4 L952.6 414.3 L952.7 416.2 L952.9 410.7 M953.0 411.6 L953.1 413.8 L953.2 412.4 L953.3 415.7 M953.4 414.9 L953.5 418.4 L953.6 416.1 L953.7 420.1 L953.8 419.0 L953.9 422.7 L954.0 421.2 L954.1 423.8 L954.2 422.7 L954.2 426.7 L954.3 424.9 L954.4 427.9 L954.5 426.6 L954.6 430.3 M954.7 429.7 L954.8 433.7 L954.9 431.5 L955.0 435.7 M955.1 434.8 L955.2 438.2 L955.3 436.8 L955.4 439.5 M955.5 440.1 L955.7 437.0 L956.0 441.1 L956.2 436.7 M960.1 408.9 L960.3 412.8 L960.4 411.3 L960.5 416.7 L960.7 413.8 L960.8 419.2 L960.9 416.2 L961.1 421.6 L961.2 418.9 L961.3 423.1 L961.4 421.3 L961.6 424.7 L961.7 422.7 L961.8 427.2 L962.0 424.7 L962.1 429.0 L962.2 427.3 L962.4 431.3 M962.8 429.3 L963.1 433.9 M963.4 432.2 L963.8 437.4 M964.1 434.4 L964.4 439.0 M964.7 436.4 L965.0 441.5 M965.3 440.8 L965.6 444.1 M966.5 446.7 L966.7 441.6 M966.9 443.0 L967.1 438.0 M967.3 439.9 L967.5 436.8 M967.7 438.4 L967.9 434.0 M968.1 435.5 L968.3 431.2 M968.5 432.9 L968.8 429.5 L968.9 425.7 L969.1 428.6 L969.3 424.2 L969.5 426.4 L969.7 420.7 L969.9 422.6 L970.1 418.9 M970.3 420.6 L970.5 415.7 L970.7 417.9 L970.9 413.5 L971.0 416.4 L971.2 411.5 L971.4 415.1 L971.6 411.4 M974.6 414.1 L974.7 412.0 M974.7 412.1 L974.8 409.3 M974.9 409.7 L975.0 407.4 M975.1 407.1 L975.1 404.9 M975.2 404.8 L975.3 402.8 M975.4 402.5 L975.5 400.6 M975.5 400.6 L975.6 398.2 M975.7 398.2 L975.8 396.0 M975.9 396.1 L976.0 393.7 M976.0 393.5 L976.1 391.4 M976.2 391.6 L976.3 389.5 M976.4 389.7 L976.4 387.0 M976.5 387.1 L976.6 385.2 M976.7 385.0 L976.8 382.8 M976.8 382.7 L976.9 380.8 M979.6 315.0 L979.6 312.4 M979.7 313.1 L979.8 309.2 L979.9 311.6 L980.0 307.2 L980.1 308.3 L980.2 305.5 M980.3 306.1 L980.4 303.0 L980.4 304.3 L980.5 301.2 M980.6 301.9 L980.7 298.3 L980.8 299.8 L980.9 295.5 L981.0 297.2 L981.1 293.5 L981.2 294.7 L981.2 292.6 M984.2 343.5 L984.7 349.6 M985.1 348.2 L985.6 353.8 M986.1 351.6 L986.5 357.5 M987.3 357.3 L987.6 363.1 L987.9 359.6 L988.2 364.1 M988.5 362.2 L988.8 367.4 L989.1 364.3 L989.4 368.6 M1002.5 356.8 L1002.6 355.4 L1002.7 360.4 M1006.6 392.9 L1007.0 387.3 M1007.3 390.7 L1007.7 385.9 M1008.0 388.5 L1008.4 384.2 M1011.3 428.5 L1011.4 425.0 M1011.5 425.2 L1011.6 422.8 M1011.7 423.0 L1011.8 419.2 L1011.9 421.2 L1012.0 416.9 L1012.1 419.0 L1012.2 415.8 M1012.3 416.5 L1012.4 412.7 L1012.5 415.1 L1012.6 410.7 L1012.7 413.1 L1012.8 409.0 L1012.9 411.0 L1013.0 406.7 L1013.1 408.6 L1013.2 405.9 M1013.3 406.4 L1013.4 403.9 M1013.5 404.4 L1013.6 401.1 L1013.7 402.4 L1013.8 399.6 M1013.8 400.2 L1013.9 397.5 L1014.0 398.8 L1014.1 395.2 L1014.2 397.4 L1014.3 393.8 M1014.4 394.3 L1014.5 391.6 L1014.6 393.0 L1014.7 388.6 L1014.8 390.4 L1014.9 386.1 M1015.2 387.5 L1015.4 382.5 L1015.6 386.0 L1015.8 380.8 L1016.0 383.9 L1016.2 378.3 L1016.5 381.4 L1016.7 377.0 M1016.9 378.8 L1017.1 373.3 L1017.3 376.6 L1017.5 371.9 M1017.7 373.6 L1017.9 368.2 L1018.1 370.9 L1018.3 365.4 L1018.5 369.3 L1018.8 365.0 L1018.8 363.5 M1018.9 363.1 L1019.0 361.3 M1019.1 360.8 L1019.1 358.8 M1019.2 358.4 L1019.3 356.8 L1019.4 355.9 L1019.4 354.2 M1019.5 353.9 L1019.6 351.9 M1019.7 351.5 L1019.7 349.7 M1019.8 349.0 L1019.9 347.3 M1020.0 347.0 L1020.0 345.1 M1020.1 344.6 L1020.2 342.6 M1020.3 342.3 L1020.3 340.5 M1020.4 339.8 L1020.5 338.4 L1020.6 334.9 L1020.7 341.8 L1020.9 336.5 L1021.0 342.5 L1021.1 338.8 L1021.2 345.4 L1021.3 341.9 L1021.4 347.7 L1021.6 344.3 L1021.7 348.9 L1021.8 347.7 L1021.9 352.6 L1022.0 348.5 L1022.1 353.5 M1022.3 352.5 L1022.4 356.5 M1022.7 355.6 L1022.7 353.6 M1022.8 353.4 L1022.9 351.3 M1023.0 351.1 L1023.0 348.9 M1023.1 349.0 L1023.2 347.0 M1023.3 346.9 L1023.3 344.9 M1023.4 344.5 L1023.5 342.4 M1023.6 342.6 L1023.6 340.4 M1023.7 340.3 L1023.8 338.1 M1023.9 337.9 L1023.9 336.2 M1024.0 335.8 L1024.1 333.5 M1024.2 333.4 L1024.2 331.2 M1024.3 331.3 L1024.4 328.9 M1024.5 329.2 L1024.5 327.1 M1024.6 326.7 L1024.7 324.5 M1024.8 324.9 L1024.8 322.3 M1024.9 322.4 L1025.0 320.8 L1025.2 317.4 L1025.3 323.9 L1025.5 318.5 L1025.6 325.8 L1025.8 321.7 L1025.9 328.0 L1026.1 322.6 L1026.2 330.0 L1026.4 327.7 L1026.6 331.7 L1026.7 328.8 L1026.9 335.0 L1027.0 330.8 L1027.2 338.2 L1027.3 334.1 L1027.5 338.2 M1027.8 339.0 L1028.1 334.5 L1028.3 338.3 L1028.6 330.6 L1028.9 335.8 L1029.2 329.2 M1029.4 331.8 L1029.7 324.4 M1030.0 326.4 L1030.1 329.3 M1030.2 329.1 L1030.3 331.5 L1030.4 330.3 L1030.4 333.9 L1030.5 332.7 L1030.6 336.8 L1030.7 334.9 L1030.8 338.2 M1030.9 337.4 L1031.0 341.5 L1031.1 339.8 L1031.2 343.9 L1031.2 342.0 L1031.3 346.0 L1031.4 344.3 L1031.5 348.2 M1031.6 347.6 L1031.7 350.3 L1031.8 348.9 L1031.9 352.7 M1032.0 351.8 L1032.1 355.6 L1032.1 353.9 L1032.2 357.9 L1032.3 356.5 L1032.4 359.9 M1035.8 387.1 L1035.9 391.3 L1036.0 388.7 L1036.1 392.7 M1036.2 391.9 L1036.2 394.7 L1036.3 393.2 L1036.4 396.8 L1036.5 395.2 L1036.6 399.1 L1036.7 397.7 L1036.8 401.9 L1036.9 400.5 L1037.0 403.8 L1037.1 402.2 L1037.2 405.6 L1037.3 404.5 L1037.4 408.4 M1043.8 385.8 L1044.1 391.2 M1044.4 388.9 L1044.7 392.8 M1045.0 391.6 L1045.1 388.5 L1045.2 390.4 L1045.3 385.4 L1045.4 389.1 L1045.6 382.5 L1045.7 385.2 L1045.8 381.2 L1045.9 384.1 L1046.0 379.3 M1053.8 338.6 L1053.9 335.6 L1054.0 337.7 L1054.1 333.9 L1054.2 335.2 L1054.3 331.8 M1058.8 392.2 L1058.9 395.4 M1059.0 394.6 L1059.1 397.4 M1059.2 396.7 L1059.3 399.7 M1059.4 399.4 L1059.4 402.1 M1059.5 401.8 L1059.6 404.3 M1059.7 403.8 L1059.8 406.7 L1059.9 405.7 L1060.0 409.3 M1060.0 408.6 L1060.1 411.5 M1060.2 410.7 L1060.3 413.5 M1060.4 413.4 L1060.5 416.0 M1060.6 415.5 L1060.6 417.8 M1060.7 417.6 L1060.8 420.0 M1060.9 419.9 L1061.0 422.3 M1061.1 421.9 L1061.2 424.6 M1061.2 425.0 L1061.4 421.5 L1061.5 425.5 L1061.7 419.0 L1061.8 422.2 L1062.0 417.3 L1062.2 420.8 L1062.3 415.0 L1062.5 417.9 L1062.6 413.9 L1062.8 416.7 L1062.9 411.1 L1063.0 414.0 L1063.2 409.2 L1063.3 411.5 L1063.5 407.1 L1063.7 411.4 L1063.8 404.8 L1064.0 407.9 L1064.1 403.5 L1064.2 407.5 L1064.4 402.8 L1064.5 405.3 L1064.7 400.9 L1064.8 402.7 L1065.0 400.3 M1065.1 400.4 L1065.3 404.1 L1065.4 401.0 L1065.5 407.0 L1065.7 403.4 L1065.8 410.1 L1066.0 407.1 L1066.1 412.1 L1066.2 407.9 L1066.4 414.0 L1066.5 411.3 L1066.6 415.3 L1066.8 413.4 L1066.9 418.0 L1067.0 416.1 L1067.2 420.9 L1067.3 417.4 L1067.5 421.8 L1067.6 420.1 L1067.7 424.1 L1067.9 420.8 L1068.0 424.0 M1068.1 424.8 L1068.3 419.1 L1068.4 422.6 L1068.6 416.1 L1068.7 418.9 L1068.8 413.4 L1069.0 416.7 L1069.1 411.5 L1069.2 412.9 L1069.4 408.7 L1069.5 411.4 L1069.7 405.7 L1069.8 408.8 L1069.9 404.3 L1070.1 406.5 L1070.2 402.4 L1070.4 405.5 L1070.5 402.8 L1070.5 403.6 L1070.6 404.7 L1070.7 405.8 L1070.7 406.9 L1070.8 408.0 L1070.8 409.1 L1070.8 410.2 L1070.9 411.3 L1071.0 412.4 L1071.0 413.5 L1071.0 414.6 L1071.1 415.7 L1071.2 416.8 L1071.2 417.9 L1071.2 419.0 L1071.3 420.1 L1071.3 421.2 L1071.4 422.3 L1071.5 423.4 L1071.5 424.5 L1071.5 425.6 L1071.6 426.7 L1071.7 427.8 L1071.7 428.9 L1071.8 430.0 M1071.9 430.8 L1072.1 436.6 L1072.3 434.1 L1072.4 438.6 L1072.6 435.7 L1072.8 440.5 L1073.0 436.0 L1073.1 440.9 M1073.3 439.2 L1073.5 442.6 L1073.7 440.0 L1073.8 445.7 M1074.0 444.4 L1074.1 442.8 L1074.2 448.8 L1074.4 446.1 L1074.5 450.9 L1074.6 448.3 L1074.8 452.2 L1074.9 450.3 L1075.0 455.1 L1075.1 452.7 L1075.2 457.0 L1075.4 454.5 L1075.5 459.6 L1075.6 456.9 L1075.8 461.1 L1075.9 458.9 L1076.0 463.3 L1076.1 460.8 L1076.2 464.9 M1076.4 464.0 L1076.5 467.1 M1076.6 466.0 L1076.8 470.9 L1076.9 468.1 L1077.0 471.2 L1077.1 474.2 L1077.3 471.3 L1077.4 477.0 L1077.6 474.9 L1077.7 478.5 L1077.8 476.9 L1078.0 480.9 L1078.1 479.3 L1078.3 483.1 M1078.4 482.2 L1078.5 486.6 L1078.7 484.8 L1078.8 488.0 L1079.0 486.1 L1079.1 490.1 M1079.4 489.3 L1079.5 493.7 L1079.6 491.5 L1079.7 495.7 L1079.8 494.2 L1079.9 497.4 M1080.0 496.9 L1080.2 500.5 L1080.3 498.8 L1080.4 501.5 L1080.5 500.0 L1080.6 504.2 L1080.7 502.6 L1080.8 506.8 L1080.9 504.6 L1081.0 508.2 M1081.2 507.6 L1081.3 511.2 L1081.4 509.6 L1081.5 512.3 M1081.7 512.3 L1081.9 509.4 M1082.0 510.9 L1082.2 507.8 M1082.4 509.5 L1082.6 505.0 M1082.7 506.7 L1082.9 503.3 L1083.1 505.6 L1083.3 502.3 M1083.4 503.3 L1083.6 498.9 L1083.8 501.1 L1084.0 496.7 M1084.1 498.4 L1084.3 493.9 M1084.6 495.7 L1084.8 491.2 M1084.9 492.4 L1085.1 489.3 M1085.2 490.1 L1085.3 486.9 M1085.5 488.1 L1085.6 484.9 M1085.8 485.8 L1085.9 482.2 M1086.0 483.0 L1086.2 478.9 M1086.3 480.0 L1086.5 475.9 L1086.6 478.6 L1086.8 474.8 L1086.8 472.3 L1087.0 473.9 L1087.0 470.5 M1087.2 471.0 L1087.2 467.7 L1087.3 468.7 L1087.5 464.9 L1087.5 465.9 L1087.7 462.0 M1087.8 462.7 L1087.8 460.2 M1088.0 461.1 L1088.0 457.2 L1088.2 458.6 L1088.2 456.6 L1088.3 458.7 L1088.4 459.9 L1088.5 460.8 L1088.5 462.2 L1088.6 463.1 L1088.7 464.5 L1088.8 465.3 L1088.8 466.6 L1088.9 467.5 L1089.0 469.0 L1089.0 469.8 L1089.1 471.2 L1089.2 472.1 L1089.2 473.4 L1089.3 474.3 L1089.4 475.7 L1089.5 476.5 L1089.5 477.9 L1089.6 478.8 L1089.7 480.1 L1089.8 481.1 M1089.9 480.4 L1090.1 483.3 L1090.2 478.7 L1090.4 481.2 L1090.5 476.9 M1090.7 477.9 L1090.9 474.5 M1091.0 475.8 L1091.2 471.3 L1091.3 473.6 L1091.5 469.8 L1091.6 471.9 L1091.8 467.3 L1092.0 470.0 L1092.1 464.6 L1092.3 467.7 L1092.4 462.8 L1092.6 464.5 L1092.8 461.7 L1092.8 461.1 L1092.8 462.3 L1092.9 463.4 L1092.9 464.6 L1093.0 465.7 L1093.0 466.9 L1093.1 468.0 L1093.1 469.2 L1093.1 470.3 L1093.2 471.5 L1093.2 472.6 L1093.3 473.8 L1093.3 474.9 L1093.4 476.1 L1093.4 477.2 L1093.5 478.4 L1093.5 479.5 L1093.6 477.0 L1093.8 479.5 L1093.9 473.4 L1094.0 476.0 L1094.2 471.4 M1094.3 472.4 L1094.4 468.0 L1094.6 470.6 L1094.7 466.0 M1094.8 467.2 L1095.0 463.5 L1095.1 466.1 L1095.2 461.9 L1095.4 463.4 L1095.5 459.5 L1095.6 461.8 L1095.8 459.2 M1096.1 458.3 L1096.3 455.1 L1096.5 457.7 L1096.7 453.3 M1096.9 454.7 L1097.1 451.8 M1097.3 453.0 L1097.5 448.5 M1097.7 449.5 L1097.8 451.8 L1098.0 449.0 L1098.1 454.0 M1098.3 452.6 L1098.4 455.6 L1098.5 454.2 L1098.7 458.6 L1098.8 455.8 L1098.9 461.0 L1099.1 458.4 L1099.2 462.0 L1099.4 459.8 L1099.5 463.2 M1100.8 464.5 L1101.1 469.0 M1101.8 468.8 L1102.0 471.4 M1102.2 471.0 L1102.5 475.0 M1102.8 472.7 L1103.0 477.1 M1103.2 476.5 L1103.5 481.1 M1103.8 478.7 L1104.0 482.0 M1104.2 483.8 L1104.5 481.3 L1104.7 486.3 L1104.9 483.4 L1105.2 487.3 L1105.4 484.6 L1105.6 489.1 L1105.8 486.8 L1106.1 491.6 L1106.3 488.1 L1106.5 492.5 M1107.0 494.1 L1107.1 496.6 M1107.2 496.6 L1107.3 499.6 L1107.4 498.5 L1107.5 501.5 M1107.6 501.0 L1107.7 503.8 M1107.8 503.2 L1107.9 506.3 M1107.9 505.5 L1108.0 508.7 L1108.1 507.4 L1108.2 511.0 L1108.3 509.8 L1108.4 512.6 M1108.5 512.4 L1108.6 515.5 M1108.7 514.8 L1108.8 516.6" fill="none" stroke="#0f4fa6" stroke-width="3.7" stroke-linejoin="round" stroke-linecap="round"/>
<path d="M1108.0 519.8 L1113.3 525.1 L1108.0 530.4 L1102.7 525.1 Z" fill="#cc0a14" stroke="#cc0a14" stroke-width="2.0" stroke-linejoin="round"/>
<path d="M1108.0 558.1 L1114.0 569.7 L1102.0 569.7 Z" fill="#cc0a14" stroke="#cc0a14" stroke-width="1" stroke-linejoin="round"/>
<path d="M1108.0 574.2 L1115.0 581.2 L1108.0 588.2 L1101.0 581.2 Z" fill="#3db54a" stroke="#3db54a" stroke-width="2.0" stroke-linejoin="round"/>
<path d="M1108.0 596.8 L1114.2 608.4 L1101.8 608.4 Z" fill="#2fa950" stroke="#2fa950" stroke-width="1" stroke-linejoin="round"/></g>
<g filter="url(#bt)"><text x="340.0" y="28.0" font-family="'Liberation Sans', Arial, sans-serif" font-size="30" fill="#1c1c1c" font-weight="700" textLength="511.0" lengthAdjust="spacingAndGlyphs" stroke="#1c1c1c" stroke-width="0.5">El riesgo país en mínimos del año</text>
<text x="20.9" y="100.0" font-family="'Liberation Sans', Arial, sans-serif" font-size="24.5" fill="#8e8e8e" textLength="64.8" lengthAdjust="spacingAndGlyphs">4.500</text>
<text x="20.9" y="162.6" font-family="'Liberation Sans', Arial, sans-serif" font-size="24.5" fill="#8e8e8e" textLength="64.8" lengthAdjust="spacingAndGlyphs">4.000</text>
<text x="21.4" y="225.2" font-family="'Liberation Sans', Arial, sans-serif" font-size="24.5" fill="#8e8e8e" textLength="64.3" lengthAdjust="spacingAndGlyphs">3.500</text>
<text x="21.4" y="287.8" font-family="'Liberation Sans', Arial, sans-serif" font-size="24.5" fill="#8e8e8e" textLength="64.3" lengthAdjust="spacingAndGlyphs">3.000</text>
<text x="21.9" y="350.4" font-family="'Liberation Sans', Arial, sans-serif" font-size="24.5" fill="#8e8e8e" textLength="63.8" lengthAdjust="spacingAndGlyphs">2.500</text>
<text x="21.9" y="413.0" font-family="'Liberation Sans', Arial, sans-serif" font-size="24.5" fill="#8e8e8e" textLength="63.8" lengthAdjust="spacingAndGlyphs">2.000</text>
<text x="24.4" y="475.6" font-family="'Liberation Sans', Arial, sans-serif" font-size="24.5" fill="#8e8e8e" textLength="61.3" lengthAdjust="spacingAndGlyphs">1.500</text>
<text x="24.4" y="538.2" font-family="'Liberation Sans', Arial, sans-serif" font-size="24.5" fill="#8e8e8e" textLength="61.3" lengthAdjust="spacingAndGlyphs">1.000</text>
<text x="41.9" y="600.8" font-family="'Liberation Sans', Arial, sans-serif" font-size="24.5" fill="#8e8e8e" textLength="43.8" lengthAdjust="spacingAndGlyphs">500</text>
<text x="70.9" y="663.4" font-family="'Liberation Sans', Arial, sans-serif" font-size="24.5" fill="#8e8e8e" textLength="14.8" lengthAdjust="spacingAndGlyphs">0</text>
<text transform="translate(115.4 670.8) rotate(-90)" text-anchor="end" font-family="'Liberation Sans', Arial, sans-serif" font-size="25" fill="#8e8e8e" textLength="55" lengthAdjust="spacingAndGlyphs">2007</text>
<text transform="translate(172.4 670.8) rotate(-90)" text-anchor="end" font-family="'Liberation Sans', Arial, sans-serif" font-size="25" fill="#8e8e8e" textLength="55" lengthAdjust="spacingAndGlyphs">2008</text>
<text transform="translate(229.4 670.8) rotate(-90)" text-anchor="end" font-family="'Liberation Sans', Arial, sans-serif" font-size="25" fill="#8e8e8e" textLength="55" lengthAdjust="spacingAndGlyphs">2009</text>
<text transform="translate(286.4 670.8) rotate(-90)" text-anchor="end" font-family="'Liberation Sans', Arial, sans-serif" font-size="25" fill="#8e8e8e" textLength="51" lengthAdjust="spacingAndGlyphs">2010</text>
<text transform="translate(343.4 670.8) rotate(-90)" text-anchor="end" font-family="'Liberation Sans', Arial, sans-serif" font-size="25" fill="#8e8e8e" textLength="47" lengthAdjust="spacingAndGlyphs">2011</text>
<text transform="translate(400.4 670.8) rotate(-90)" text-anchor="end" font-family="'Liberation Sans', Arial, sans-serif" font-size="25" fill="#8e8e8e" textLength="51" lengthAdjust="spacingAndGlyphs">2012</text>
<text transform="translate(457.4 670.8) rotate(-90)" text-anchor="end" font-family="'Liberation Sans', Arial, sans-serif" font-size="25" fill="#8e8e8e" textLength="51" lengthAdjust="spacingAndGlyphs">2013</text>
<text transform="translate(514.4 670.8) rotate(-90)" text-anchor="end" font-family="'Liberation Sans', Arial, sans-serif" font-size="25" fill="#8e8e8e" textLength="51" lengthAdjust="spacingAndGlyphs">2014</text>
<text transform="translate(571.4 670.8) rotate(-90)" text-anchor="end" font-family="'Liberation Sans', Arial, sans-serif" font-size="25" fill="#8e8e8e" textLength="51" lengthAdjust="spacingAndGlyphs">2015</text>
<text transform="translate(628.4 670.8) rotate(-90)" text-anchor="end" font-family="'Liberation Sans', Arial, sans-serif" font-size="25" fill="#8e8e8e" textLength="51" lengthAdjust="spacingAndGlyphs">2016</text>
<text transform="translate(685.4 670.8) rotate(-90)" text-anchor="end" font-family="'Liberation Sans', Arial, sans-serif" font-size="25" fill="#8e8e8e" textLength="51" lengthAdjust="spacingAndGlyphs">2017</text>
<text transform="translate(742.4 670.8) rotate(-90)" text-anchor="end" font-family="'Liberation Sans', Arial, sans-serif" font-size="25" fill="#8e8e8e" textLength="51" lengthAdjust="spacingAndGlyphs">2018</text>
<text transform="translate(799.4 670.8) rotate(-90)" text-anchor="end" font-family="'Liberation Sans', Arial, sans-serif" font-size="25" fill="#8e8e8e" textLength="51" lengthAdjust="spacingAndGlyphs">2019</text>
<text transform="translate(856.4 670.8) rotate(-90)" text-anchor="end" font-family="'Liberation Sans', Arial, sans-serif" font-size="25" fill="#8e8e8e" textLength="55" lengthAdjust="spacingAndGlyphs">2020</text>
<text transform="translate(913.4 670.8) rotate(-90)" text-anchor="end" font-family="'Liberation Sans', Arial, sans-serif" font-size="25" fill="#8e8e8e" textLength="51" lengthAdjust="spacingAndGlyphs">2021</text>
<text transform="translate(970.4 670.8) rotate(-90)" text-anchor="end" font-family="'Liberation Sans', Arial, sans-serif" font-size="25" fill="#8e8e8e" textLength="55" lengthAdjust="spacingAndGlyphs">2022</text>
<text transform="translate(1027.4 670.8) rotate(-90)" text-anchor="end" font-family="'Liberation Sans', Arial, sans-serif" font-size="25" fill="#8e8e8e" textLength="55" lengthAdjust="spacingAndGlyphs">2023</text>
<text transform="translate(1084.4 670.8) rotate(-90)" text-anchor="end" font-family="'Liberation Sans', Arial, sans-serif" font-size="25" fill="#8e8e8e" textLength="55" lengthAdjust="spacingAndGlyphs">2024</text>
<text x="227.5" y="81.7" font-family="'Liberation Sans', Arial, sans-serif" font-size="22.5" fill="#5e5e5e" stroke="#ffffff" stroke-width="0.22" font-weight="700" textLength="137.0" lengthAdjust="spacingAndGlyphs">ARGENTINA</text>
<text x="609.5" y="81.7" font-family="'Liberation Sans', Arial, sans-serif" font-size="22.5" fill="#5e5e5e" stroke="#ffffff" stroke-width="0.22" font-weight="700" textLength="70.0" lengthAdjust="spacingAndGlyphs">EMBI+</text>
<text x="226.5" y="131.6" font-family="'Liberation Sans', Arial, sans-serif" font-size="22.5" fill="#5e5e5e" stroke="#ffffff" stroke-width="0.22" font-weight="700" textLength="66.5" lengthAdjust="spacingAndGlyphs">Prom.</text>
<text x="300.0" y="131.6" font-family="'Liberation Sans', Arial, sans-serif" font-size="22.5" fill="#5e5e5e" stroke="#ffffff" stroke-width="0.22" font-weight="700" textLength="60.0" lengthAdjust="spacingAndGlyphs">2005</text>
<text x="368.7" y="131.6" font-family="'Liberation Sans', Arial, sans-serif" font-size="22.5" fill="#5e5e5e" stroke="#ffffff" stroke-width="0.22" font-weight="700" textLength="7.5" lengthAdjust="spacingAndGlyphs">-</text>
<text x="382.0" y="131.6" font-family="'Liberation Sans', Arial, sans-serif" font-size="22.5" fill="#5e5e5e" stroke="#ffffff" stroke-width="0.22" font-weight="700" textLength="60.0" lengthAdjust="spacingAndGlyphs">2024</text>
<text x="226.5" y="181.6" font-family="'Liberation Sans', Arial, sans-serif" font-size="22.5" fill="#5e5e5e" stroke="#ffffff" stroke-width="0.22" font-weight="700" textLength="97.0" lengthAdjust="spacingAndGlyphs">Mediana</text>
<text x="330.0" y="181.6" font-family="'Liberation Sans', Arial, sans-serif" font-size="22.5" fill="#5e5e5e" stroke="#ffffff" stroke-width="0.22" font-weight="700" textLength="60.0" lengthAdjust="spacingAndGlyphs">2005</text>
<text x="399.4" y="181.6" font-family="'Liberation Sans', Arial, sans-serif" font-size="22.5" fill="#5e5e5e" stroke="#ffffff" stroke-width="0.22" font-weight="700" textLength="7.5" lengthAdjust="spacingAndGlyphs">-</text>
<text x="412.6" y="181.6" font-family="'Liberation Sans', Arial, sans-serif" font-size="22.5" fill="#5e5e5e" stroke="#ffffff" stroke-width="0.22" font-weight="700" textLength="60.0" lengthAdjust="spacingAndGlyphs">2024</text>
<text x="609.5" y="131.6" font-family="'Liberation Sans', Arial, sans-serif" font-size="22.5" fill="#5e5e5e" stroke="#ffffff" stroke-width="0.22" font-weight="700" textLength="66.5" lengthAdjust="spacingAndGlyphs">Prom.</text>
<text x="683.5" y="131.6" font-family="'Liberation Sans', Arial, sans-serif" font-size="22.5" fill="#5e5e5e" stroke="#ffffff" stroke-width="0.22" font-weight="700" textLength="50.0" lengthAdjust="spacingAndGlyphs">gov.</text>
<text x="734.5" y="131.6" font-family="'Liberation Sans', Arial, sans-serif" font-size="22.5" fill="#5e5e5e" stroke="#ffffff" stroke-width="0.22" font-weight="700" textLength="43.5" lengthAdjust="spacingAndGlyphs">MM</text>
<text x="610.0" y="181.6" font-family="'Liberation Sans', Arial, sans-serif" font-size="22.5" fill="#5e5e5e" stroke="#ffffff" stroke-width="0.22" font-weight="700" textLength="96.0" lengthAdjust="spacingAndGlyphs">Mediana</text>
<text x="712.5" y="181.6" font-family="'Liberation Sans', Arial, sans-serif" font-size="22.5" fill="#5e5e5e" stroke="#ffffff" stroke-width="0.22" font-weight="700" textLength="50.0" lengthAdjust="spacingAndGlyphs">gov.</text>
<text x="764.5" y="181.6" font-family="'Liberation Sans', Arial, sans-serif" font-size="22.5" fill="#5e5e5e" stroke="#ffffff" stroke-width="0.22" font-weight="700" textLength="43.0" lengthAdjust="spacingAndGlyphs">MM</text>
<text x="1120.5" y="507.2" font-family="'Liberation Sans', Arial, sans-serif" font-size="19.6" fill="#2e4277" font-weight="700" textLength="52.0" lengthAdjust="spacingAndGlyphs">1.106</text>
<text x="1131.0" y="531.5" font-family="'Liberation Sans', Arial, sans-serif" font-size="16" fill="#c63a45" font-weight="700" textLength="48.5" lengthAdjust="spacingAndGlyphs">1.043</text>
<text x="1130.5" y="570.5" font-family="'Liberation Sans', Arial, sans-serif" font-size="16.4" fill="#c63a45" font-weight="700" textLength="34.0" lengthAdjust="spacingAndGlyphs">733</text>
<text x="1133.0" y="588.0" font-family="'Liberation Sans', Arial, sans-serif" font-size="16.4" fill="#4bb56a" font-weight="700" textLength="31.5" lengthAdjust="spacingAndGlyphs">597</text>
<text x="1130.5" y="608.8" font-family="'Liberation Sans', Arial, sans-serif" font-size="16.4" fill="#4bb56a" font-weight="700" textLength="34.5" lengthAdjust="spacingAndGlyphs">430</text>
<text x="1124.5" y="632.5" font-family="'Liberation Sans', Arial, sans-serif" font-size="20.3" fill="#6fbde9" textLength="32.0" lengthAdjust="spacingAndGlyphs" stroke="#6fbde9" stroke-width="0.35">313</text>
<text x="353.0" y="796.0" font-family="'Liberation Sans', Arial, sans-serif" font-size="23" fill="#2a2a2a" textLength="80.0" lengthAdjust="spacingAndGlyphs" stroke="#2a2a2a" stroke-width="0.3">Fuente:</text>
<text x="440.5" y="796.0" font-family="'Liberation Sans', Arial, sans-serif" font-size="23" fill="#1c1c1c" font-weight="700" textLength="396.0" lengthAdjust="spacingAndGlyphs">Portfolio Personal Inversiones (PPI)</text></g>
</svg>
</body></html>
